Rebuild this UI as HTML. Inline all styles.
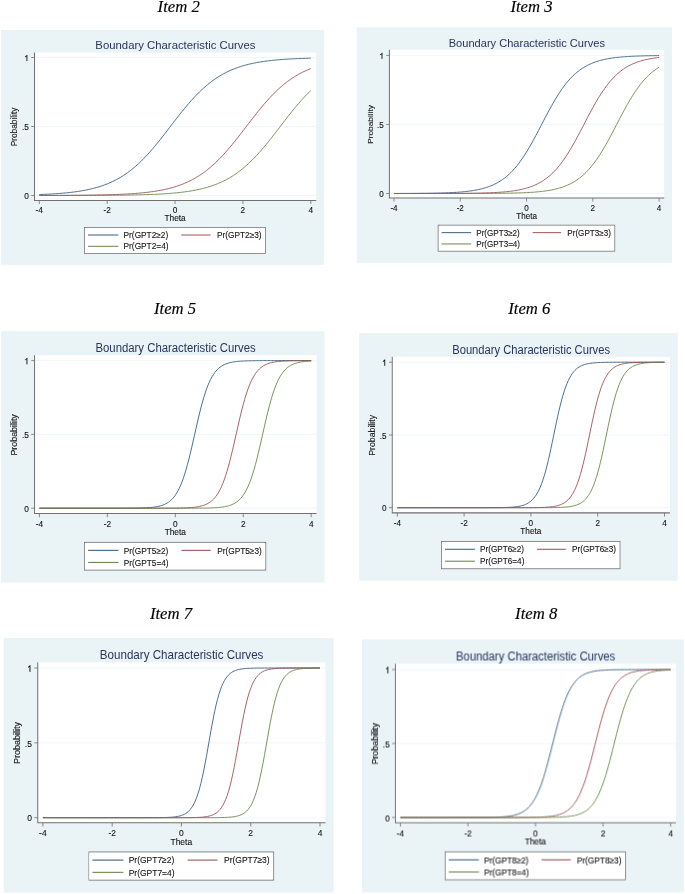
<!DOCTYPE html>
<html><head><meta charset="utf-8"><title>Boundary Characteristic Curves</title>
<style>
html,body{margin:0;padding:0;background:#fff;}
body{width:685px;height:894px;overflow:hidden;}
svg{display:block;}
text{font-family:"Liberation Sans",sans-serif;}
.it{font-family:"Liberation Serif",serif;font-style:italic;font-size:16.7px;fill:#000;stroke:#000;stroke-width:0.15px;}
.lb{font-size:8.3px;fill:#111;stroke:#111;stroke-width:0.1px;}
.tt{font-size:11.8px;fill:#27355c;}
</style></head><body>
<div style="will-change:transform;width:685px;height:894px"><svg width="685" height="894" viewBox="0 0 685 894">

<text class="it" x="178.7" y="12.2" text-anchor="middle" opacity="0.999">Item 2</text>
<g transform="translate(1.0,30.0) scale(1.00062,1.00000)" opacity="0.999">
<rect x="0" y="0" width="323.0" height="235.0" fill="#eaf3f6"/>
<rect x="33" y="22.5" width="282" height="148" fill="#fff"/>
<line x1="34" x2="315" y1="165.5" y2="165.5" stroke="#eaf3f6" stroke-width="0.7"/>
<line x1="34" x2="315" y1="96.5" y2="96.5" stroke="#eaf3f6" stroke-width="0.7"/>
<line x1="34" x2="315" y1="27.5" y2="27.5" stroke="#eaf3f6" stroke-width="0.7"/>
<path d="M38.28,164.53 L39.63,164.48 L40.99,164.43 L42.35,164.37 L43.70,164.32 L45.06,164.25 L46.42,164.19 L47.77,164.12 L49.13,164.05 L50.49,163.97 L51.84,163.89 L53.20,163.81 L54.56,163.72 L55.91,163.63 L57.27,163.53 L58.63,163.43 L59.98,163.32 L61.34,163.21 L62.70,163.09 L64.05,162.97 L65.41,162.84 L66.77,162.70 L68.12,162.56 L69.48,162.40 L70.84,162.25 L72.19,162.08 L73.55,161.90 L74.91,161.72 L76.26,161.52 L77.62,161.32 L78.98,161.11 L80.33,160.89 L81.69,160.65 L83.05,160.41 L84.40,160.15 L85.76,159.88 L87.12,159.59 L88.47,159.30 L89.83,158.99 L91.19,158.66 L92.54,158.32 L93.90,157.96 L95.26,157.59 L96.61,157.19 L97.97,156.78 L99.33,156.36 L100.68,155.91 L102.04,155.44 L103.40,154.95 L104.75,154.44 L106.11,153.91 L107.47,153.35 L108.82,152.77 L110.18,152.16 L111.54,151.53 L112.89,150.87 L114.25,150.19 L115.61,149.48 L116.96,148.73 L118.32,147.96 L119.68,147.16 L121.03,146.33 L122.39,145.47 L123.75,144.57 L125.10,143.65 L126.46,142.69 L127.82,141.69 L129.17,140.66 L130.53,139.60 L131.89,138.50 L133.24,137.37 L134.60,136.21 L135.96,135.00 L137.31,133.77 L138.67,132.50 L140.03,131.19 L141.38,129.85 L142.74,128.48 L144.10,127.07 L145.45,125.63 L146.81,124.16 L148.17,122.66 L149.52,121.13 L150.88,119.57 L152.24,117.98 L153.59,116.37 L154.95,114.74 L156.31,113.08 L157.66,111.40 L159.02,109.70 L160.38,107.99 L161.73,106.26 L163.09,104.52 L164.45,102.77 L165.80,101.01 L167.16,99.24 L168.52,97.47 L169.87,95.70 L171.23,93.93 L172.59,92.17 L173.94,90.41 L175.30,88.66 L176.66,86.91 L178.01,85.18 L179.37,83.47 L180.73,81.77 L182.08,80.09 L183.44,78.43 L184.80,76.79 L186.15,75.18 L187.51,73.59 L188.87,72.03 L190.22,70.49 L191.58,68.99 L192.94,67.52 L194.29,66.07 L195.65,64.66 L197.01,63.29 L198.36,61.94 L199.72,60.63 L201.08,59.36 L202.43,58.12 L203.79,56.91 L205.15,55.74 L206.50,54.61 L207.86,53.51 L209.22,52.44 L210.57,51.41 L211.93,50.41 L213.29,49.45 L214.64,48.52 L216.00,47.62 L217.36,46.75 L218.71,45.92 L220.07,45.12 L221.43,44.34 L222.78,43.60 L224.14,42.88 L225.50,42.19 L226.85,41.53 L228.21,40.90 L229.57,40.29 L230.92,39.71 L232.28,39.15 L233.64,38.61 L234.99,38.10 L236.35,37.61 L237.71,37.14 L239.06,36.69 L240.42,36.26 L241.78,35.85 L243.13,35.45 L244.49,35.08 L245.85,34.72 L247.20,34.37 L248.56,34.05 L249.92,33.73 L251.27,33.44 L252.63,33.15 L253.99,32.88 L255.34,32.62 L256.70,32.37 L258.06,32.14 L259.41,31.91 L260.77,31.70 L262.13,31.49 L263.48,31.30 L264.84,31.12 L266.20,30.94 L267.55,30.77 L268.91,30.61 L270.27,30.46 L271.62,30.31 L272.98,30.18 L274.34,30.04 L275.69,29.92 L277.05,29.80 L278.41,29.69 L279.76,29.58 L281.12,29.48 L282.48,29.38 L283.83,29.29 L285.19,29.20 L286.55,29.11 L287.90,29.03 L289.26,28.96 L290.62,28.89 L291.97,28.82 L293.33,28.75 L294.69,28.69 L296.04,28.63 L297.40,28.57 L298.76,28.52 L300.11,28.47 L301.47,28.42 L302.82,28.38 L304.18,28.33 L305.54,28.29 L306.89,28.25 L308.25,28.21 L309.61,28.18" fill="none" stroke="#2d567b" stroke-width="0.85" stroke-linejoin="round" vector-effect="non-scaling-stroke"/>
<path d="M38.28,165.44 L39.63,165.44 L40.99,165.44 L42.35,165.44 L43.70,165.43 L45.06,165.43 L46.42,165.43 L47.77,165.42 L49.13,165.42 L50.49,165.41 L51.84,165.41 L53.20,165.40 L54.56,165.40 L55.91,165.39 L57.27,165.39 L58.63,165.38 L59.98,165.37 L61.34,165.37 L62.70,165.36 L64.05,165.35 L65.41,165.35 L66.77,165.34 L68.12,165.33 L69.48,165.32 L70.84,165.31 L72.19,165.30 L73.55,165.29 L74.91,165.28 L76.26,165.27 L77.62,165.26 L78.98,165.24 L80.33,165.23 L81.69,165.22 L83.05,165.20 L84.40,165.19 L85.76,165.17 L87.12,165.15 L88.47,165.13 L89.83,165.11 L91.19,165.09 L92.54,165.07 L93.90,165.05 L95.26,165.03 L96.61,165.00 L97.97,164.98 L99.33,164.95 L100.68,164.92 L102.04,164.89 L103.40,164.86 L104.75,164.82 L106.11,164.79 L107.47,164.75 L108.82,164.71 L110.18,164.67 L111.54,164.63 L112.89,164.58 L114.25,164.53 L115.61,164.48 L116.96,164.43 L118.32,164.37 L119.68,164.31 L121.03,164.25 L122.39,164.19 L123.75,164.12 L125.10,164.05 L126.46,163.97 L127.82,163.89 L129.17,163.81 L130.53,163.72 L131.89,163.63 L133.24,163.53 L134.60,163.43 L135.96,163.32 L137.31,163.21 L138.67,163.09 L140.03,162.96 L141.38,162.83 L142.74,162.69 L144.10,162.55 L145.45,162.40 L146.81,162.24 L148.17,162.07 L149.52,161.89 L150.88,161.71 L152.24,161.52 L153.59,161.31 L154.95,161.10 L156.31,160.87 L157.66,160.64 L159.02,160.39 L160.38,160.13 L161.73,159.86 L163.09,159.58 L164.45,159.28 L165.80,158.97 L167.16,158.64 L168.52,158.30 L169.87,157.94 L171.23,157.57 L172.59,157.17 L173.94,156.76 L175.30,156.33 L176.66,155.88 L178.01,155.42 L179.37,154.92 L180.73,154.41 L182.08,153.88 L183.44,153.32 L184.80,152.74 L186.15,152.13 L187.51,151.50 L188.87,150.84 L190.22,150.15 L191.58,149.44 L192.94,148.70 L194.29,147.92 L195.65,147.12 L197.01,146.29 L198.36,145.42 L199.72,144.53 L201.08,143.60 L202.43,142.64 L203.79,141.64 L205.15,140.61 L206.50,139.55 L207.86,138.45 L209.22,137.31 L210.57,136.15 L211.93,134.94 L213.29,133.70 L214.64,132.43 L216.00,131.12 L217.36,129.78 L218.71,128.41 L220.07,127.00 L221.43,125.56 L222.78,124.08 L224.14,122.58 L225.50,121.05 L226.85,119.49 L228.21,117.90 L229.57,116.29 L230.92,114.65 L232.28,112.99 L233.64,111.32 L234.99,109.62 L236.35,107.90 L237.71,106.17 L239.06,104.43 L240.42,102.68 L241.78,100.92 L243.13,99.15 L244.49,97.39 L245.85,95.61 L247.20,93.85 L248.56,92.08 L249.92,90.32 L251.27,88.57 L252.63,86.83 L253.99,85.10 L255.34,83.38 L256.70,81.68 L258.06,80.01 L259.41,78.35 L260.77,76.71 L262.13,75.10 L263.48,73.51 L264.84,71.95 L266.20,70.42 L267.55,68.92 L268.91,67.44 L270.27,66.00 L271.62,64.59 L272.98,63.22 L274.34,61.88 L275.69,60.57 L277.05,59.30 L278.41,58.06 L279.76,56.85 L281.12,55.69 L282.48,54.55 L283.83,53.45 L285.19,52.39 L286.55,51.36 L287.90,50.36 L289.26,49.40 L290.62,48.47 L291.97,47.58 L293.33,46.71 L294.69,45.88 L296.04,45.08 L297.40,44.30 L298.76,43.56 L300.11,42.85 L301.47,42.16 L302.82,41.50 L304.18,40.87 L305.54,40.26 L306.89,39.68 L308.25,39.12 L309.61,38.59" fill="none" stroke="#99464c" stroke-width="0.85" stroke-linejoin="round" vector-effect="non-scaling-stroke"/>
<path d="M38.28,165.48 L39.63,165.48 L40.99,165.48 L42.35,165.48 L43.70,165.48 L45.06,165.48 L46.42,165.48 L47.77,165.48 L49.13,165.48 L50.49,165.48 L51.84,165.47 L53.20,165.47 L54.56,165.47 L55.91,165.47 L57.27,165.47 L58.63,165.47 L59.98,165.47 L61.34,165.46 L62.70,165.46 L64.05,165.46 L65.41,165.46 L66.77,165.46 L68.12,165.45 L69.48,165.45 L70.84,165.45 L72.19,165.44 L73.55,165.44 L74.91,165.44 L76.26,165.44 L77.62,165.43 L78.98,165.43 L80.33,165.43 L81.69,165.42 L83.05,165.42 L84.40,165.41 L85.76,165.41 L87.12,165.40 L88.47,165.40 L89.83,165.39 L91.19,165.39 L92.54,165.38 L93.90,165.37 L95.26,165.37 L96.61,165.36 L97.97,165.35 L99.33,165.35 L100.68,165.34 L102.04,165.33 L103.40,165.32 L104.75,165.31 L106.11,165.30 L107.47,165.29 L108.82,165.28 L110.18,165.27 L111.54,165.26 L112.89,165.24 L114.25,165.23 L115.61,165.22 L116.96,165.20 L118.32,165.19 L119.68,165.17 L121.03,165.15 L122.39,165.13 L123.75,165.11 L125.10,165.09 L126.46,165.07 L127.82,165.05 L129.17,165.03 L130.53,165.00 L131.89,164.98 L133.24,164.95 L134.60,164.92 L135.96,164.89 L137.31,164.86 L138.67,164.82 L140.03,164.79 L141.38,164.75 L142.74,164.71 L144.10,164.67 L145.45,164.63 L146.81,164.58 L148.17,164.53 L149.52,164.48 L150.88,164.43 L152.24,164.37 L153.59,164.31 L154.95,164.25 L156.31,164.19 L157.66,164.12 L159.02,164.05 L160.38,163.97 L161.73,163.89 L163.09,163.81 L164.45,163.72 L165.80,163.63 L167.16,163.53 L168.52,163.43 L169.87,163.32 L171.23,163.21 L172.59,163.09 L173.94,162.96 L175.30,162.83 L176.66,162.69 L178.01,162.55 L179.37,162.40 L180.73,162.24 L182.08,162.07 L183.44,161.89 L184.80,161.71 L186.15,161.52 L187.51,161.31 L188.87,161.10 L190.22,160.87 L191.58,160.64 L192.94,160.39 L194.29,160.13 L195.65,159.86 L197.01,159.58 L198.36,159.28 L199.72,158.97 L201.08,158.64 L202.43,158.30 L203.79,157.94 L205.15,157.57 L206.50,157.17 L207.86,156.76 L209.22,156.33 L210.57,155.88 L211.93,155.42 L213.29,154.92 L214.64,154.41 L216.00,153.88 L217.36,153.32 L218.71,152.74 L220.07,152.13 L221.43,151.50 L222.78,150.84 L224.14,150.15 L225.50,149.44 L226.85,148.70 L228.21,147.92 L229.57,147.12 L230.92,146.29 L232.28,145.42 L233.64,144.53 L234.99,143.60 L236.35,142.64 L237.71,141.64 L239.06,140.61 L240.42,139.55 L241.78,138.45 L243.13,137.31 L244.49,136.15 L245.85,134.94 L247.20,133.70 L248.56,132.43 L249.92,131.12 L251.27,129.78 L252.63,128.41 L253.99,127.00 L255.34,125.56 L256.70,124.08 L258.06,122.58 L259.41,121.05 L260.77,119.49 L262.13,117.90 L263.48,116.29 L264.84,114.65 L266.20,112.99 L267.55,111.32 L268.91,109.62 L270.27,107.90 L271.62,106.17 L272.98,104.43 L274.34,102.68 L275.69,100.92 L277.05,99.15 L278.41,97.39 L279.76,95.61 L281.12,93.85 L282.48,92.08 L283.83,90.32 L285.19,88.57 L286.55,86.83 L287.90,85.10 L289.26,83.38 L290.62,81.68 L291.97,80.01 L293.33,78.35 L294.69,76.71 L296.04,75.10 L297.40,73.51 L298.76,71.95 L300.11,70.42 L301.47,68.92 L302.82,67.44 L304.18,66.00 L305.54,64.59 L306.89,63.22 L308.25,61.88 L309.61,60.57" fill="none" stroke="#638041" stroke-width="0.85" stroke-linejoin="round" vector-effect="non-scaling-stroke"/>
<path d="M33.5,22.5 V170.5 H315" fill="none" stroke="#707070" stroke-width="1"/>
<line x1="30.2" x2="33.5" y1="165.5" y2="165.5" stroke="#707070" stroke-width="0.8"/>
<text class="lb" x="27.8" y="168.90" text-anchor="end">0</text>
<line x1="30.2" x2="33.5" y1="96.5" y2="96.5" stroke="#707070" stroke-width="0.8"/>
<text class="lb" x="27.8" y="99.90" text-anchor="end">.5</text>
<line x1="30.2" x2="33.5" y1="27.5" y2="27.5" stroke="#707070" stroke-width="0.8"/>
<path d="M763 0H583V1147Q518 1085 412.5 1023T223 930V1104Q372 1174 483.5 1273.5T641 1466H763Z" fill="#111" stroke="#111" stroke-width="40" transform="translate(23.18,30.90) scale(0.004053,-0.004053)"/>
<line x1="38.28" x2="38.28" y1="170.5" y2="174" stroke="#707070" stroke-width="0.8"/>
<text class="lb" x="38.28" y="183.2" text-anchor="middle">-4</text>
<line x1="106.11" x2="106.11" y1="170.5" y2="174" stroke="#707070" stroke-width="0.8"/>
<text class="lb" x="106.11" y="183.2" text-anchor="middle">-2</text>
<line x1="173.94" x2="173.94" y1="170.5" y2="174" stroke="#707070" stroke-width="0.8"/>
<text class="lb" x="173.94" y="183.2" text-anchor="middle">0</text>
<line x1="241.78" x2="241.78" y1="170.5" y2="174" stroke="#707070" stroke-width="0.8"/>
<text class="lb" x="241.78" y="183.2" text-anchor="middle">2</text>
<line x1="309.61" x2="309.61" y1="170.5" y2="174" stroke="#707070" stroke-width="0.8"/>
<text class="lb" x="309.61" y="183.2" text-anchor="middle">4</text>
<text class="lb" x="174" y="191" text-anchor="middle">Theta</text>
<text class="lb" transform="translate(16.3,97) rotate(-90)" text-anchor="middle">Probability</text>
<text class="tt" x="174.3" y="19.4" text-anchor="middle" textLength="160" lengthAdjust="spacingAndGlyphs">Boundary Characteristic Curves</text>
<rect x="83.4" y="197.5" width="181" height="26" fill="#fff" stroke="#666" stroke-width="0.7"/>
<line x1="87" x2="117.3" y1="205" y2="205" stroke="#2d567b" stroke-width="0.95"/>
<line x1="180.2" x2="209.4" y1="205" y2="205" stroke="#99464c" stroke-width="0.95"/>
<line x1="87" x2="117.3" y1="216.3" y2="216.3" stroke="#638041" stroke-width="0.95"/>
<text class="lb" x="122.5" y="208">Pr(GPT2≥2)</text>
<text class="lb" x="215.8" y="208">Pr(GPT2≥3)</text>
<text class="lb" x="122.5" y="219.3">Pr(GPT2=4)</text>
</g>
<text class="it" x="531.5" y="12.1" text-anchor="middle" opacity="0.999">Item 3</text>
<g transform="translate(356.7,27.3) scale(0.97616,1.00170)" opacity="0.999">
<rect x="0" y="0" width="323.0" height="235.0" fill="#eaf3f6"/>
<rect x="33" y="22.5" width="282" height="148" fill="#fff"/>
<line x1="34" x2="315" y1="165.9175870858114" y2="165.9175870858114" stroke="#eaf3f6" stroke-width="0.7"/>
<line x1="34" x2="315" y1="96.98491928632116" y2="96.98491928632116" stroke="#eaf3f6" stroke-width="0.7"/>
<line x1="34" x2="315" y1="28.052251486830926" y2="28.052251486830926" stroke="#eaf3f6" stroke-width="0.7"/>
<path d="M38.21,165.88 L39.57,165.88 L40.93,165.88 L42.28,165.87 L43.64,165.87 L45.00,165.87 L46.36,165.86 L47.72,165.86 L49.07,165.85 L50.43,165.85 L51.79,165.84 L53.15,165.84 L54.51,165.83 L55.86,165.82 L57.22,165.82 L58.58,165.81 L59.94,165.80 L61.29,165.79 L62.65,165.78 L64.01,165.77 L65.37,165.76 L66.73,165.75 L68.08,165.73 L69.44,165.72 L70.80,165.70 L72.16,165.69 L73.52,165.67 L74.87,165.65 L76.23,165.63 L77.59,165.61 L78.95,165.58 L80.30,165.56 L81.66,165.53 L83.02,165.50 L84.38,165.47 L85.74,165.44 L87.09,165.40 L88.45,165.36 L89.81,165.32 L91.17,165.27 L92.53,165.22 L93.88,165.17 L95.24,165.11 L96.60,165.05 L97.96,164.98 L99.32,164.91 L100.67,164.84 L102.03,164.75 L103.39,164.66 L104.75,164.57 L106.10,164.47 L107.46,164.36 L108.82,164.24 L110.18,164.11 L111.54,163.97 L112.89,163.83 L114.25,163.67 L115.61,163.50 L116.97,163.32 L118.33,163.12 L119.68,162.91 L121.04,162.69 L122.40,162.44 L123.76,162.18 L125.11,161.91 L126.47,161.61 L127.83,161.29 L129.19,160.94 L130.55,160.58 L131.90,160.18 L133.26,159.76 L134.62,159.31 L135.98,158.83 L137.34,158.32 L138.69,157.77 L140.05,157.18 L141.41,156.56 L142.77,155.89 L144.12,155.18 L145.48,154.43 L146.84,153.62 L148.20,152.77 L149.56,151.86 L150.91,150.90 L152.27,149.88 L153.63,148.80 L154.99,147.66 L156.35,146.46 L157.70,145.18 L159.06,143.85 L160.42,142.44 L161.78,140.96 L163.13,139.42 L164.49,137.80 L165.85,136.10 L167.21,134.34 L168.57,132.50 L169.92,130.59 L171.28,128.61 L172.64,126.56 L174.00,124.45 L175.36,122.27 L176.71,120.04 L178.07,117.75 L179.43,115.40 L180.79,113.01 L182.15,110.58 L183.50,108.11 L184.86,105.61 L186.22,103.09 L187.58,100.55 L188.93,98.01 L190.29,95.45 L191.65,92.91 L193.01,90.37 L194.37,87.86 L195.72,85.36 L197.08,82.90 L198.44,80.48 L199.80,78.10 L201.16,75.76 L202.51,73.48 L203.87,71.26 L205.23,69.09 L206.59,66.99 L207.94,64.96 L209.30,62.99 L210.66,61.10 L212.02,59.27 L213.38,57.52 L214.73,55.84 L216.09,54.24 L217.45,52.70 L218.81,51.24 L220.17,49.85 L221.52,48.53 L222.88,47.27 L224.24,46.08 L225.60,44.95 L226.95,43.88 L228.31,42.87 L229.67,41.92 L231.03,41.03 L232.39,40.18 L233.74,39.39 L235.10,38.64 L236.46,37.94 L237.82,37.28 L239.18,36.67 L240.53,36.09 L241.89,35.55 L243.25,35.04 L244.61,34.56 L245.97,34.12 L247.32,33.70 L248.68,33.32 L250.04,32.95 L251.40,32.62 L252.75,32.30 L254.11,32.01 L255.47,31.73 L256.83,31.48 L258.19,31.24 L259.54,31.02 L260.90,30.81 L262.26,30.62 L263.62,30.44 L264.98,30.27 L266.33,30.11 L267.69,29.97 L269.05,29.83 L270.41,29.71 L271.76,29.59 L273.12,29.48 L274.48,29.38 L275.84,29.29 L277.20,29.20 L278.55,29.12 L279.91,29.04 L281.27,28.97 L282.63,28.91 L283.99,28.85 L285.34,28.79 L286.70,28.74 L288.06,28.69 L289.42,28.64 L290.77,28.60 L292.13,28.56 L293.49,28.53 L294.85,28.49 L296.21,28.46 L297.56,28.43 L298.92,28.41 L300.28,28.38 L301.64,28.36 L303.00,28.34 L304.35,28.32 L305.71,28.30 L307.07,28.28 L308.43,28.26 L309.78,28.25" fill="none" stroke="#2d567b" stroke-width="0.85" stroke-linejoin="round" vector-effect="non-scaling-stroke"/>
<path d="M38.21,165.91 L39.57,165.91 L40.93,165.91 L42.28,165.91 L43.64,165.91 L45.00,165.91 L46.36,165.91 L47.72,165.91 L49.07,165.91 L50.43,165.91 L51.79,165.91 L53.15,165.91 L54.51,165.91 L55.86,165.91 L57.22,165.91 L58.58,165.91 L59.94,165.91 L61.29,165.91 L62.65,165.90 L64.01,165.90 L65.37,165.90 L66.73,165.90 L68.08,165.90 L69.44,165.90 L70.80,165.90 L72.16,165.90 L73.52,165.89 L74.87,165.89 L76.23,165.89 L77.59,165.89 L78.95,165.89 L80.30,165.88 L81.66,165.88 L83.02,165.88 L84.38,165.88 L85.74,165.87 L87.09,165.87 L88.45,165.86 L89.81,165.86 L91.17,165.86 L92.53,165.85 L93.88,165.85 L95.24,165.84 L96.60,165.84 L97.96,165.83 L99.32,165.82 L100.67,165.81 L102.03,165.81 L103.39,165.80 L104.75,165.79 L106.10,165.78 L107.46,165.77 L108.82,165.76 L110.18,165.75 L111.54,165.73 L112.89,165.72 L114.25,165.70 L115.61,165.69 L116.97,165.67 L118.33,165.65 L119.68,165.63 L121.04,165.61 L122.40,165.58 L123.76,165.56 L125.11,165.53 L126.47,165.50 L127.83,165.47 L129.19,165.43 L130.55,165.40 L131.90,165.36 L133.26,165.31 L134.62,165.27 L135.98,165.22 L137.34,165.16 L138.69,165.11 L140.05,165.04 L141.41,164.98 L142.77,164.90 L144.12,164.83 L145.48,164.74 L146.84,164.66 L148.20,164.56 L149.56,164.46 L150.91,164.35 L152.27,164.23 L153.63,164.10 L154.99,163.96 L156.35,163.81 L157.70,163.65 L159.06,163.48 L160.42,163.30 L161.78,163.10 L163.13,162.89 L164.49,162.66 L165.85,162.42 L167.21,162.16 L168.57,161.88 L169.92,161.58 L171.28,161.25 L172.64,160.91 L174.00,160.54 L175.36,160.14 L176.71,159.72 L178.07,159.27 L179.43,158.78 L180.79,158.27 L182.15,157.71 L183.50,157.12 L184.86,156.49 L186.22,155.82 L187.58,155.11 L188.93,154.35 L190.29,153.54 L191.65,152.68 L193.01,151.77 L194.37,150.80 L195.72,149.77 L197.08,148.69 L198.44,147.54 L199.80,146.33 L201.16,145.05 L202.51,143.71 L203.87,142.30 L205.23,140.81 L206.59,139.26 L207.94,137.63 L209.30,135.93 L210.66,134.16 L212.02,132.31 L213.38,130.40 L214.73,128.41 L216.09,126.36 L217.45,124.24 L218.81,122.05 L220.17,119.81 L221.52,117.51 L222.88,115.16 L224.24,112.77 L225.60,110.33 L226.95,107.86 L228.31,105.36 L229.67,102.84 L231.03,100.30 L232.39,97.75 L233.74,95.20 L235.10,92.65 L236.46,90.12 L237.82,87.61 L239.18,85.12 L240.53,82.66 L241.89,80.24 L243.25,77.86 L244.61,75.53 L245.97,73.26 L247.32,71.04 L248.68,68.88 L250.04,66.78 L251.40,64.76 L252.75,62.80 L254.11,60.91 L255.47,59.10 L256.83,57.35 L258.19,55.68 L259.54,54.08 L260.90,52.56 L262.26,51.10 L263.62,49.71 L264.98,48.40 L266.33,47.15 L267.69,45.96 L269.05,44.84 L270.41,43.78 L271.76,42.78 L273.12,41.83 L274.48,40.94 L275.84,40.10 L277.20,39.31 L278.55,38.57 L279.91,37.87 L281.27,37.22 L282.63,36.61 L283.99,36.03 L285.34,35.49 L286.70,34.99 L288.06,34.52 L289.42,34.08 L290.77,33.66 L292.13,33.28 L293.49,32.92 L294.85,32.58 L296.21,32.27 L297.56,31.98 L298.92,31.71 L300.28,31.45 L301.64,31.21 L303.00,30.99 L304.35,30.79 L305.71,30.60 L307.07,30.42 L308.43,30.25 L309.78,30.10" fill="none" stroke="#99464c" stroke-width="0.85" stroke-linejoin="round" vector-effect="non-scaling-stroke"/>
<path d="M38.21,165.92 L39.57,165.92 L40.93,165.92 L42.28,165.92 L43.64,165.92 L45.00,165.92 L46.36,165.92 L47.72,165.92 L49.07,165.92 L50.43,165.92 L51.79,165.92 L53.15,165.92 L54.51,165.92 L55.86,165.92 L57.22,165.92 L58.58,165.92 L59.94,165.92 L61.29,165.92 L62.65,165.92 L64.01,165.92 L65.37,165.92 L66.73,165.91 L68.08,165.91 L69.44,165.91 L70.80,165.91 L72.16,165.91 L73.52,165.91 L74.87,165.91 L76.23,165.91 L77.59,165.91 L78.95,165.91 L80.30,165.91 L81.66,165.91 L83.02,165.91 L84.38,165.91 L85.74,165.91 L87.09,165.91 L88.45,165.91 L89.81,165.91 L91.17,165.91 L92.53,165.91 L93.88,165.91 L95.24,165.91 L96.60,165.90 L97.96,165.90 L99.32,165.90 L100.67,165.90 L102.03,165.90 L103.39,165.90 L104.75,165.90 L106.10,165.90 L107.46,165.89 L108.82,165.89 L110.18,165.89 L111.54,165.89 L112.89,165.89 L114.25,165.88 L115.61,165.88 L116.97,165.88 L118.33,165.87 L119.68,165.87 L121.04,165.87 L122.40,165.86 L123.76,165.86 L125.11,165.85 L126.47,165.85 L127.83,165.84 L129.19,165.84 L130.55,165.83 L131.90,165.83 L133.26,165.82 L134.62,165.81 L135.98,165.80 L137.34,165.80 L138.69,165.79 L140.05,165.78 L141.41,165.77 L142.77,165.75 L144.12,165.74 L145.48,165.73 L146.84,165.71 L148.20,165.70 L149.56,165.68 L150.91,165.66 L152.27,165.64 L153.63,165.62 L154.99,165.60 L156.35,165.57 L157.70,165.55 L159.06,165.52 L160.42,165.49 L161.78,165.46 L163.13,165.42 L164.49,165.38 L165.85,165.34 L167.21,165.30 L168.57,165.25 L169.92,165.20 L171.28,165.15 L172.64,165.09 L174.00,165.02 L175.36,164.96 L176.71,164.88 L178.07,164.80 L179.43,164.72 L180.79,164.63 L182.15,164.53 L183.50,164.42 L184.86,164.31 L186.22,164.19 L187.58,164.06 L188.93,163.92 L190.29,163.77 L191.65,163.60 L193.01,163.43 L194.37,163.24 L195.72,163.04 L197.08,162.82 L198.44,162.59 L199.80,162.34 L201.16,162.08 L202.51,161.79 L203.87,161.48 L205.23,161.15 L206.59,160.80 L207.94,160.42 L209.30,160.02 L210.66,159.59 L212.02,159.13 L213.38,158.63 L214.73,158.10 L216.09,157.54 L217.45,156.94 L218.81,156.30 L220.17,155.61 L221.52,154.88 L222.88,154.11 L224.24,153.29 L225.60,152.41 L226.95,151.48 L228.31,150.50 L229.67,149.45 L231.03,148.35 L232.39,147.19 L233.74,145.95 L235.10,144.66 L236.46,143.29 L237.82,141.86 L239.18,140.35 L240.53,138.78 L241.89,137.13 L243.25,135.41 L244.61,133.61 L245.97,131.74 L247.32,129.81 L248.68,127.80 L250.04,125.73 L251.40,123.59 L252.75,121.39 L254.11,119.13 L255.47,116.81 L256.83,114.45 L258.19,112.04 L259.54,109.59 L260.90,107.11 L262.26,104.61 L263.62,102.08 L264.98,99.53 L266.33,96.98 L267.69,94.44 L269.05,91.89 L270.41,89.36 L271.76,86.86 L273.12,84.38 L274.48,81.93 L275.84,79.52 L277.20,77.16 L278.55,74.84 L279.91,72.58 L281.27,70.38 L282.63,68.24 L283.99,66.17 L285.34,64.16 L286.70,62.23 L288.06,60.36 L289.42,58.56 L290.77,56.84 L292.13,55.19 L293.49,53.62 L294.85,52.11 L296.21,50.68 L297.56,49.31 L298.92,48.01 L300.28,46.78 L301.64,45.62 L303.00,44.52 L304.35,43.47 L305.71,42.49 L307.07,41.56 L308.43,40.68 L309.78,39.86" fill="none" stroke="#638041" stroke-width="0.85" stroke-linejoin="round" vector-effect="non-scaling-stroke"/>
<path d="M33.5,22.5 V170.5 H315" fill="none" stroke="#707070" stroke-width="1"/>
<line x1="30.2" x2="33.5" y1="165.9175870858114" y2="165.9175870858114" stroke="#707070" stroke-width="0.8"/>
<text class="lb" x="27.8" y="169.32" text-anchor="end">0</text>
<line x1="30.2" x2="33.5" y1="96.98491928632116" y2="96.98491928632116" stroke="#707070" stroke-width="0.8"/>
<text class="lb" x="27.8" y="100.38" text-anchor="end">.5</text>
<line x1="30.2" x2="33.5" y1="28.052251486830926" y2="28.052251486830926" stroke="#707070" stroke-width="0.8"/>
<path d="M763 0H583V1147Q518 1085 412.5 1023T223 930V1104Q372 1174 483.5 1273.5T641 1466H763Z" fill="#111" stroke="#111" stroke-width="40" transform="translate(23.18,31.45) scale(0.004053,-0.004053)"/>
<line x1="38.21" x2="38.21" y1="170.5" y2="174" stroke="#707070" stroke-width="0.8"/>
<text class="lb" x="38.21" y="183.2" text-anchor="middle">-4</text>
<line x1="106.10" x2="106.10" y1="170.5" y2="174" stroke="#707070" stroke-width="0.8"/>
<text class="lb" x="106.10" y="183.2" text-anchor="middle">-2</text>
<line x1="174.00" x2="174.00" y1="170.5" y2="174" stroke="#707070" stroke-width="0.8"/>
<text class="lb" x="174.00" y="183.2" text-anchor="middle">0</text>
<line x1="241.89" x2="241.89" y1="170.5" y2="174" stroke="#707070" stroke-width="0.8"/>
<text class="lb" x="241.89" y="183.2" text-anchor="middle">2</text>
<line x1="309.78" x2="309.78" y1="170.5" y2="174" stroke="#707070" stroke-width="0.8"/>
<text class="lb" x="309.78" y="183.2" text-anchor="middle">4</text>
<text class="lb" x="174" y="191" text-anchor="middle">Theta</text>
<text class="lb" transform="translate(16.3,97) rotate(-90)" text-anchor="middle">Probability</text>
<text class="tt" x="174.3" y="19.4" text-anchor="middle" textLength="160" lengthAdjust="spacingAndGlyphs">Boundary Characteristic Curves</text>
<rect x="83.4" y="197.5" width="181" height="26" fill="#fff" stroke="#666" stroke-width="0.7"/>
<line x1="87" x2="117.3" y1="205" y2="205" stroke="#2d567b" stroke-width="0.95"/>
<line x1="180.2" x2="209.4" y1="205" y2="205" stroke="#99464c" stroke-width="0.95"/>
<line x1="87" x2="117.3" y1="216.3" y2="216.3" stroke="#638041" stroke-width="0.95"/>
<text class="lb" x="122.5" y="208">Pr(GPT3≥2)</text>
<text class="lb" x="215.8" y="208">Pr(GPT3≥3)</text>
<text class="lb" x="122.5" y="219.3">Pr(GPT3=4)</text>
</g>
<text class="it" x="175.1" y="314.0" text-anchor="middle" opacity="0.999">Item 5</text>
<g transform="translate(1.0,331.2) scale(1.00155,1.06894)" opacity="0.999">
<rect x="0" y="0" width="323.0" height="235.0" fill="#eaf3f6"/>
<rect x="33" y="22.5" width="282" height="148" fill="#fff"/>
<line x1="34" x2="315" y1="165.58519108280254" y2="165.58519108280254" stroke="#eaf3f6" stroke-width="0.7"/>
<line x1="34" x2="315" y1="96.54458598726116" y2="96.54458598726116" stroke="#eaf3f6" stroke-width="0.7"/>
<line x1="34" x2="315" y1="27.503980891719777" y2="27.503980891719777" stroke="#eaf3f6" stroke-width="0.7"/>
<path d="M38.34,165.59 L39.70,165.59 L41.05,165.59 L42.41,165.59 L43.77,165.59 L45.13,165.59 L46.48,165.59 L47.84,165.59 L49.20,165.59 L50.55,165.59 L51.91,165.59 L53.27,165.59 L54.62,165.59 L55.98,165.59 L57.34,165.59 L58.69,165.59 L60.05,165.59 L61.41,165.59 L62.76,165.59 L64.12,165.59 L65.48,165.59 L66.84,165.59 L68.19,165.59 L69.55,165.59 L70.91,165.59 L72.26,165.59 L73.62,165.59 L74.98,165.59 L76.33,165.59 L77.69,165.59 L79.05,165.59 L80.40,165.59 L81.76,165.58 L83.12,165.58 L84.48,165.58 L85.83,165.58 L87.19,165.58 L88.55,165.58 L89.90,165.58 L91.26,165.58 L92.62,165.58 L93.97,165.58 L95.33,165.58 L96.69,165.58 L98.04,165.58 L99.40,165.58 L100.76,165.58 L102.11,165.58 L103.47,165.58 L104.83,165.58 L106.19,165.58 L107.54,165.58 L108.90,165.58 L110.26,165.58 L111.61,165.58 L112.97,165.58 L114.33,165.58 L115.68,165.57 L117.04,165.57 L118.40,165.57 L119.75,165.57 L121.11,165.56 L122.47,165.56 L123.83,165.55 L125.18,165.55 L126.54,165.54 L127.90,165.53 L129.25,165.53 L130.61,165.52 L131.97,165.50 L133.32,165.49 L134.68,165.47 L136.04,165.45 L137.39,165.43 L138.75,165.40 L140.11,165.36 L141.47,165.33 L142.82,165.28 L144.18,165.22 L145.54,165.16 L146.89,165.09 L148.25,165.00 L149.61,164.89 L150.96,164.77 L152.32,164.62 L153.68,164.45 L155.03,164.26 L156.39,164.02 L157.75,163.75 L159.10,163.42 L160.46,163.04 L161.82,162.60 L163.18,162.08 L164.53,161.48 L165.89,160.77 L167.25,159.95 L168.60,158.99 L169.96,157.88 L171.32,156.60 L172.67,155.12 L174.03,153.42 L175.39,151.47 L176.74,149.26 L178.10,146.74 L179.46,143.91 L180.82,140.74 L182.17,137.23 L183.53,133.35 L184.89,129.12 L186.24,124.56 L187.60,119.68 L188.96,114.52 L190.31,109.14 L191.67,103.60 L193.03,97.96 L194.38,92.30 L195.74,86.70 L197.10,81.23 L198.45,75.96 L199.81,70.94 L201.17,66.21 L202.53,61.81 L203.88,57.76 L205.24,54.06 L206.60,50.72 L207.95,47.72 L209.31,45.05 L210.67,42.69 L212.02,40.61 L213.38,38.79 L214.74,37.20 L216.09,35.82 L217.45,34.63 L218.81,33.60 L220.17,32.71 L221.52,31.95 L222.88,31.30 L224.24,30.74 L225.59,30.26 L226.95,29.85 L228.31,29.50 L229.66,29.20 L231.02,28.95 L232.38,28.73 L233.73,28.55 L235.09,28.39 L236.45,28.26 L237.80,28.14 L239.16,28.05 L240.52,27.96 L241.88,27.90 L243.23,27.84 L244.59,27.79 L245.95,27.74 L247.30,27.71 L248.66,27.68 L250.02,27.65 L251.37,27.63 L252.73,27.61 L254.09,27.59 L255.44,27.58 L256.80,27.57 L258.16,27.56 L259.52,27.55 L260.87,27.54 L262.23,27.54 L263.59,27.53 L264.94,27.53 L266.30,27.52 L267.66,27.52 L269.01,27.52 L270.37,27.52 L271.73,27.51 L273.08,27.51 L274.44,27.51 L275.80,27.51 L277.15,27.51 L278.51,27.51 L279.87,27.51 L281.23,27.51 L282.58,27.51 L283.94,27.51 L285.30,27.51 L286.65,27.51 L288.01,27.51 L289.37,27.51 L290.72,27.51 L292.08,27.50 L293.44,27.50 L294.79,27.50 L296.15,27.50 L297.51,27.50 L298.87,27.50 L300.22,27.50 L301.58,27.50 L302.94,27.50 L304.29,27.50 L305.65,27.50 L307.01,27.50 L308.36,27.50 L309.72,27.50" fill="none" stroke="#2d567b" stroke-width="0.85" stroke-linejoin="round" vector-effect="non-scaling-stroke"/>
<path d="M38.34,165.59 L39.70,165.59 L41.05,165.59 L42.41,165.59 L43.77,165.59 L45.13,165.59 L46.48,165.59 L47.84,165.59 L49.20,165.59 L50.55,165.59 L51.91,165.59 L53.27,165.59 L54.62,165.59 L55.98,165.59 L57.34,165.59 L58.69,165.59 L60.05,165.59 L61.41,165.59 L62.76,165.59 L64.12,165.59 L65.48,165.59 L66.84,165.59 L68.19,165.59 L69.55,165.59 L70.91,165.59 L72.26,165.59 L73.62,165.59 L74.98,165.59 L76.33,165.59 L77.69,165.59 L79.05,165.59 L80.40,165.59 L81.76,165.59 L83.12,165.59 L84.48,165.59 L85.83,165.59 L87.19,165.59 L88.55,165.59 L89.90,165.59 L91.26,165.59 L92.62,165.59 L93.97,165.59 L95.33,165.59 L96.69,165.59 L98.04,165.59 L99.40,165.59 L100.76,165.59 L102.11,165.59 L103.47,165.59 L104.83,165.59 L106.19,165.59 L107.54,165.59 L108.90,165.59 L110.26,165.59 L111.61,165.59 L112.97,165.59 L114.33,165.59 L115.68,165.59 L117.04,165.59 L118.40,165.59 L119.75,165.59 L121.11,165.59 L122.47,165.59 L123.83,165.58 L125.18,165.58 L126.54,165.58 L127.90,165.58 L129.25,165.58 L130.61,165.58 L131.97,165.58 L133.32,165.58 L134.68,165.58 L136.04,165.58 L137.39,165.58 L138.75,165.58 L140.11,165.58 L141.47,165.58 L142.82,165.58 L144.18,165.58 L145.54,165.58 L146.89,165.58 L148.25,165.58 L149.61,165.58 L150.96,165.58 L152.32,165.58 L153.68,165.58 L155.03,165.58 L156.39,165.57 L157.75,165.57 L159.10,165.57 L160.46,165.57 L161.82,165.56 L163.18,165.56 L164.53,165.56 L165.89,165.55 L167.25,165.55 L168.60,165.54 L169.96,165.53 L171.32,165.52 L172.67,165.51 L174.03,165.50 L175.39,165.48 L176.74,165.46 L178.10,165.44 L179.46,165.41 L180.82,165.38 L182.17,165.35 L183.53,165.30 L184.89,165.25 L186.24,165.19 L187.60,165.12 L188.96,165.04 L190.31,164.95 L191.67,164.83 L193.03,164.70 L194.38,164.54 L195.74,164.36 L197.10,164.14 L198.45,163.89 L199.81,163.59 L201.17,163.24 L202.53,162.83 L203.88,162.35 L205.24,161.79 L206.60,161.14 L207.95,160.38 L209.31,159.49 L210.67,158.46 L212.02,157.26 L213.38,155.89 L214.74,154.30 L216.09,152.48 L217.45,150.40 L218.81,148.04 L220.17,145.37 L221.52,142.37 L222.88,139.03 L224.24,135.33 L225.59,131.28 L226.95,126.88 L228.31,122.15 L229.66,117.13 L231.02,111.85 L232.38,106.38 L233.73,100.79 L235.09,95.13 L236.45,89.49 L237.80,83.95 L239.16,78.57 L240.52,73.41 L241.88,68.53 L243.23,63.96 L244.59,59.74 L245.95,55.86 L247.30,52.35 L248.66,49.18 L250.02,46.35 L251.37,43.83 L252.73,41.62 L254.09,39.67 L255.44,37.97 L256.80,36.49 L258.16,35.21 L259.52,34.10 L260.87,33.14 L262.23,32.32 L263.59,31.61 L264.94,31.01 L266.30,30.49 L267.66,30.04 L269.01,29.67 L270.37,29.34 L271.73,29.07 L273.08,28.83 L274.44,28.63 L275.80,28.46 L277.15,28.32 L278.51,28.20 L279.87,28.09 L281.23,28.00 L282.58,27.93 L283.94,27.86 L285.30,27.81 L286.65,27.76 L288.01,27.72 L289.37,27.69 L290.72,27.66 L292.08,27.64 L293.44,27.62 L294.79,27.60 L296.15,27.59 L297.51,27.57 L298.87,27.56 L300.22,27.55 L301.58,27.55 L302.94,27.54 L304.29,27.53 L305.65,27.53 L307.01,27.53 L308.36,27.52 L309.72,27.52" fill="none" stroke="#99464c" stroke-width="0.85" stroke-linejoin="round" vector-effect="non-scaling-stroke"/>
<path d="M38.34,165.59 L39.70,165.59 L41.05,165.59 L42.41,165.59 L43.77,165.59 L45.13,165.59 L46.48,165.59 L47.84,165.59 L49.20,165.59 L50.55,165.59 L51.91,165.59 L53.27,165.59 L54.62,165.59 L55.98,165.59 L57.34,165.59 L58.69,165.59 L60.05,165.59 L61.41,165.59 L62.76,165.59 L64.12,165.59 L65.48,165.59 L66.84,165.59 L68.19,165.59 L69.55,165.59 L70.91,165.59 L72.26,165.59 L73.62,165.59 L74.98,165.59 L76.33,165.59 L77.69,165.59 L79.05,165.59 L80.40,165.59 L81.76,165.59 L83.12,165.59 L84.48,165.59 L85.83,165.59 L87.19,165.59 L88.55,165.59 L89.90,165.59 L91.26,165.59 L92.62,165.59 L93.97,165.59 L95.33,165.59 L96.69,165.59 L98.04,165.59 L99.40,165.59 L100.76,165.59 L102.11,165.59 L103.47,165.59 L104.83,165.59 L106.19,165.59 L107.54,165.59 L108.90,165.59 L110.26,165.59 L111.61,165.59 L112.97,165.59 L114.33,165.59 L115.68,165.59 L117.04,165.59 L118.40,165.59 L119.75,165.59 L121.11,165.59 L122.47,165.59 L123.83,165.59 L125.18,165.59 L126.54,165.59 L127.90,165.59 L129.25,165.59 L130.61,165.59 L131.97,165.59 L133.32,165.59 L134.68,165.59 L136.04,165.59 L137.39,165.59 L138.75,165.59 L140.11,165.59 L141.47,165.59 L142.82,165.59 L144.18,165.59 L145.54,165.59 L146.89,165.59 L148.25,165.59 L149.61,165.58 L150.96,165.58 L152.32,165.58 L153.68,165.58 L155.03,165.58 L156.39,165.58 L157.75,165.58 L159.10,165.58 L160.46,165.58 L161.82,165.58 L163.18,165.58 L164.53,165.58 L165.89,165.58 L167.25,165.58 L168.60,165.58 L169.96,165.58 L171.32,165.58 L172.67,165.58 L174.03,165.58 L175.39,165.58 L176.74,165.58 L178.10,165.58 L179.46,165.58 L180.82,165.58 L182.17,165.58 L183.53,165.57 L184.89,165.57 L186.24,165.57 L187.60,165.57 L188.96,165.56 L190.31,165.56 L191.67,165.55 L193.03,165.55 L194.38,165.54 L195.74,165.53 L197.10,165.53 L198.45,165.52 L199.81,165.50 L201.17,165.49 L202.53,165.47 L203.88,165.45 L205.24,165.43 L206.60,165.40 L207.95,165.36 L209.31,165.33 L210.67,165.28 L212.02,165.22 L213.38,165.16 L214.74,165.09 L216.09,165.00 L217.45,164.89 L218.81,164.77 L220.17,164.62 L221.52,164.45 L222.88,164.26 L224.24,164.02 L225.59,163.75 L226.95,163.42 L228.31,163.04 L229.66,162.60 L231.02,162.08 L232.38,161.48 L233.73,160.77 L235.09,159.95 L236.45,158.99 L237.80,157.88 L239.16,156.60 L240.52,155.12 L241.88,153.42 L243.23,151.47 L244.59,149.26 L245.95,146.74 L247.30,143.91 L248.66,140.74 L250.02,137.23 L251.37,133.35 L252.73,129.12 L254.09,124.56 L255.44,119.68 L256.80,114.52 L258.16,109.14 L259.52,103.60 L260.87,97.96 L262.23,92.30 L263.59,86.70 L264.94,81.23 L266.30,75.96 L267.66,70.94 L269.01,66.21 L270.37,61.81 L271.73,57.76 L273.08,54.06 L274.44,50.72 L275.80,47.72 L277.15,45.05 L278.51,42.69 L279.87,40.61 L281.23,38.79 L282.58,37.20 L283.94,35.82 L285.30,34.63 L286.65,33.60 L288.01,32.71 L289.37,31.95 L290.72,31.30 L292.08,30.74 L293.44,30.26 L294.79,29.85 L296.15,29.50 L297.51,29.20 L298.87,28.95 L300.22,28.73 L301.58,28.55 L302.94,28.39 L304.29,28.26 L305.65,28.14 L307.01,28.05 L308.36,27.96 L309.72,27.90" fill="none" stroke="#638041" stroke-width="0.85" stroke-linejoin="round" vector-effect="non-scaling-stroke"/>
<path d="M33.5,22.5 V170.5 H315" fill="none" stroke="#707070" stroke-width="1"/>
<line x1="30.2" x2="33.5" y1="165.58519108280254" y2="165.58519108280254" stroke="#707070" stroke-width="0.8"/>
<text class="lb" x="27.8" y="168.99" text-anchor="end">0</text>
<line x1="30.2" x2="33.5" y1="96.54458598726116" y2="96.54458598726116" stroke="#707070" stroke-width="0.8"/>
<text class="lb" x="27.8" y="99.94" text-anchor="end">.5</text>
<line x1="30.2" x2="33.5" y1="27.503980891719777" y2="27.503980891719777" stroke="#707070" stroke-width="0.8"/>
<path d="M763 0H583V1147Q518 1085 412.5 1023T223 930V1104Q372 1174 483.5 1273.5T641 1466H763Z" fill="#111" stroke="#111" stroke-width="40" transform="translate(23.18,30.90) scale(0.004053,-0.004053)"/>
<line x1="38.34" x2="38.34" y1="170.5" y2="174" stroke="#707070" stroke-width="0.8"/>
<text class="lb" x="38.34" y="183.2" text-anchor="middle">-4</text>
<line x1="106.19" x2="106.19" y1="170.5" y2="174" stroke="#707070" stroke-width="0.8"/>
<text class="lb" x="106.19" y="183.2" text-anchor="middle">-2</text>
<line x1="174.03" x2="174.03" y1="170.5" y2="174" stroke="#707070" stroke-width="0.8"/>
<text class="lb" x="174.03" y="183.2" text-anchor="middle">0</text>
<line x1="241.88" x2="241.88" y1="170.5" y2="174" stroke="#707070" stroke-width="0.8"/>
<text class="lb" x="241.88" y="183.2" text-anchor="middle">2</text>
<line x1="309.72" x2="309.72" y1="170.5" y2="174" stroke="#707070" stroke-width="0.8"/>
<text class="lb" x="309.72" y="183.2" text-anchor="middle">4</text>
<text class="lb" x="174" y="191" text-anchor="middle">Theta</text>
<text class="lb" transform="translate(16.3,97) rotate(-90)" text-anchor="middle">Probability</text>
<text class="tt" x="174.3" y="19.4" text-anchor="middle" textLength="160" lengthAdjust="spacingAndGlyphs">Boundary Characteristic Curves</text>
<rect x="83.4" y="197.5" width="181" height="26" fill="#fff" stroke="#666" stroke-width="0.7"/>
<line x1="87" x2="117.3" y1="205" y2="205" stroke="#2d567b" stroke-width="0.95"/>
<line x1="180.2" x2="209.4" y1="205" y2="205" stroke="#99464c" stroke-width="0.95"/>
<line x1="87" x2="117.3" y1="216.3" y2="216.3" stroke="#638041" stroke-width="0.95"/>
<text class="lb" x="122.5" y="208">Pr(GPT5≥2)</text>
<text class="lb" x="215.8" y="208">Pr(GPT5≥3)</text>
<text class="lb" x="122.5" y="219.3">Pr(GPT5=4)</text>
</g>
<text class="it" x="529.3" y="314.0" text-anchor="middle" opacity="0.999">Item 6</text>
<g transform="translate(359.2,333.1) scale(0.98638,1.05447)" opacity="0.999">
<rect x="0" y="0" width="323.0" height="235.0" fill="#eaf3f6"/>
<rect x="33" y="22.5" width="282" height="148" fill="#fff"/>
<line x1="34" x2="315" y1="165.58111380145277" y2="165.58111380145277" stroke="#eaf3f6" stroke-width="0.7"/>
<line x1="34" x2="315" y1="96.58898305084743" y2="96.58898305084743" stroke="#eaf3f6" stroke-width="0.7"/>
<line x1="34" x2="315" y1="27.59685230024209" y2="27.59685230024209" stroke="#eaf3f6" stroke-width="0.7"/>
<path d="M38.63,165.58 L39.98,165.58 L41.34,165.58 L42.69,165.58 L44.04,165.58 L45.40,165.58 L46.75,165.58 L48.11,165.58 L49.46,165.58 L50.82,165.58 L52.17,165.58 L53.53,165.58 L54.88,165.58 L56.23,165.58 L57.59,165.58 L58.94,165.58 L60.30,165.58 L61.65,165.58 L63.01,165.58 L64.36,165.58 L65.72,165.58 L67.07,165.58 L68.42,165.58 L69.78,165.58 L71.13,165.58 L72.49,165.58 L73.84,165.58 L75.20,165.58 L76.55,165.58 L77.91,165.58 L79.26,165.58 L80.61,165.58 L81.97,165.58 L83.32,165.58 L84.68,165.58 L86.03,165.58 L87.39,165.58 L88.74,165.58 L90.10,165.58 L91.45,165.58 L92.80,165.58 L94.16,165.58 L95.51,165.58 L96.87,165.58 L98.22,165.58 L99.58,165.58 L100.93,165.58 L102.29,165.58 L103.64,165.58 L104.99,165.58 L106.35,165.58 L107.70,165.58 L109.06,165.58 L110.41,165.58 L111.77,165.58 L113.12,165.58 L114.48,165.58 L115.83,165.58 L117.18,165.58 L118.54,165.58 L119.89,165.58 L121.25,165.57 L122.60,165.57 L123.96,165.57 L125.31,165.57 L126.67,165.57 L128.02,165.57 L129.37,165.56 L130.73,165.56 L132.08,165.55 L133.44,165.55 L134.79,165.54 L136.15,165.54 L137.50,165.53 L138.86,165.52 L140.21,165.50 L141.56,165.49 L142.92,165.47 L144.27,165.45 L145.63,165.43 L146.98,165.40 L148.34,165.36 L149.69,165.32 L151.05,165.26 L152.40,165.20 L153.75,165.13 L155.11,165.04 L156.46,164.94 L157.82,164.81 L159.17,164.66 L160.53,164.49 L161.88,164.27 L163.24,164.02 L164.59,163.72 L165.94,163.37 L167.30,162.94 L168.65,162.44 L170.01,161.85 L171.36,161.14 L172.72,160.31 L174.07,159.33 L175.43,158.18 L176.78,156.83 L178.13,155.25 L179.49,153.42 L180.84,151.29 L182.20,148.84 L183.55,146.05 L184.91,142.87 L186.26,139.28 L187.62,135.29 L188.97,130.87 L190.32,126.04 L191.68,120.84 L193.03,115.30 L194.39,109.48 L195.74,103.47 L197.10,97.36 L198.45,91.23 L199.81,85.18 L201.16,79.31 L202.51,73.70 L203.87,68.40 L205.22,63.48 L206.58,58.96 L207.93,54.85 L209.29,51.17 L210.64,47.89 L212.00,45.00 L213.35,42.47 L214.70,40.26 L216.06,38.36 L217.41,36.72 L218.77,35.32 L220.12,34.12 L221.48,33.10 L222.83,32.23 L224.19,31.50 L225.54,30.88 L226.89,30.35 L228.25,29.91 L229.60,29.54 L230.96,29.23 L232.31,28.96 L233.67,28.74 L235.02,28.56 L236.38,28.40 L237.73,28.27 L239.08,28.16 L240.44,28.07 L241.79,27.99 L243.15,27.93 L244.50,27.87 L245.86,27.83 L247.21,27.79 L248.57,27.76 L249.92,27.73 L251.27,27.71 L252.63,27.69 L253.98,27.68 L255.34,27.66 L256.69,27.65 L258.05,27.64 L259.40,27.64 L260.76,27.63 L262.11,27.62 L263.46,27.62 L264.82,27.62 L266.17,27.61 L267.53,27.61 L268.88,27.61 L270.24,27.61 L271.59,27.60 L272.95,27.60 L274.30,27.60 L275.66,27.60 L277.01,27.60 L278.36,27.60 L279.72,27.60 L281.07,27.60 L282.43,27.60 L283.78,27.60 L285.14,27.60 L286.49,27.60 L287.85,27.60 L289.20,27.60 L290.55,27.60 L291.91,27.60 L293.26,27.60 L294.62,27.60 L295.97,27.60 L297.33,27.60 L298.68,27.60 L300.04,27.60 L301.39,27.60 L302.74,27.60 L304.10,27.60 L305.45,27.60 L306.81,27.60 L308.16,27.60 L309.52,27.60" fill="none" stroke="#2d567b" stroke-width="0.85" stroke-linejoin="round" vector-effect="non-scaling-stroke"/>
<path d="M38.63,165.58 L39.98,165.58 L41.34,165.58 L42.69,165.58 L44.04,165.58 L45.40,165.58 L46.75,165.58 L48.11,165.58 L49.46,165.58 L50.82,165.58 L52.17,165.58 L53.53,165.58 L54.88,165.58 L56.23,165.58 L57.59,165.58 L58.94,165.58 L60.30,165.58 L61.65,165.58 L63.01,165.58 L64.36,165.58 L65.72,165.58 L67.07,165.58 L68.42,165.58 L69.78,165.58 L71.13,165.58 L72.49,165.58 L73.84,165.58 L75.20,165.58 L76.55,165.58 L77.91,165.58 L79.26,165.58 L80.61,165.58 L81.97,165.58 L83.32,165.58 L84.68,165.58 L86.03,165.58 L87.39,165.58 L88.74,165.58 L90.10,165.58 L91.45,165.58 L92.80,165.58 L94.16,165.58 L95.51,165.58 L96.87,165.58 L98.22,165.58 L99.58,165.58 L100.93,165.58 L102.29,165.58 L103.64,165.58 L104.99,165.58 L106.35,165.58 L107.70,165.58 L109.06,165.58 L110.41,165.58 L111.77,165.58 L113.12,165.58 L114.48,165.58 L115.83,165.58 L117.18,165.58 L118.54,165.58 L119.89,165.58 L121.25,165.58 L122.60,165.58 L123.96,165.58 L125.31,165.58 L126.67,165.58 L128.02,165.58 L129.37,165.58 L130.73,165.58 L132.08,165.58 L133.44,165.58 L134.79,165.58 L136.15,165.58 L137.50,165.58 L138.86,165.58 L140.21,165.58 L141.56,165.58 L142.92,165.58 L144.27,165.58 L145.63,165.58 L146.98,165.58 L148.34,165.58 L149.69,165.58 L151.05,165.58 L152.40,165.58 L153.75,165.58 L155.11,165.58 L156.46,165.58 L157.82,165.57 L159.17,165.57 L160.53,165.57 L161.88,165.57 L163.24,165.57 L164.59,165.57 L165.94,165.56 L167.30,165.56 L168.65,165.55 L170.01,165.55 L171.36,165.54 L172.72,165.53 L174.07,165.53 L175.43,165.51 L176.78,165.50 L178.13,165.49 L179.49,165.47 L180.84,165.44 L182.20,165.42 L183.55,165.39 L184.91,165.35 L186.26,165.30 L187.62,165.25 L188.97,165.19 L190.32,165.11 L191.68,165.02 L193.03,164.91 L194.39,164.78 L195.74,164.62 L197.10,164.44 L198.45,164.22 L199.81,163.95 L201.16,163.64 L202.51,163.27 L203.87,162.83 L205.22,162.30 L206.58,161.68 L207.93,160.95 L209.29,160.08 L210.64,159.06 L212.00,157.86 L213.35,156.46 L214.70,154.82 L216.06,152.91 L217.41,150.71 L218.77,148.18 L220.12,145.29 L221.48,142.01 L222.83,138.32 L224.19,134.22 L225.54,129.70 L226.89,124.78 L228.25,119.48 L229.60,113.87 L230.96,108.00 L232.31,101.95 L233.67,95.82 L235.02,89.70 L236.38,83.69 L237.73,77.88 L239.08,72.34 L240.44,67.13 L241.79,62.31 L243.15,57.89 L244.50,53.89 L245.86,50.31 L247.21,47.13 L248.57,44.33 L249.92,41.89 L251.27,39.76 L252.63,37.93 L253.98,36.35 L255.34,35.00 L256.69,33.85 L258.05,32.87 L259.40,32.03 L260.76,31.33 L262.11,30.74 L263.46,30.23 L264.82,29.81 L266.17,29.45 L267.53,29.16 L268.88,28.90 L270.24,28.69 L271.59,28.51 L272.95,28.37 L274.30,28.24 L275.66,28.14 L277.01,28.05 L278.36,27.98 L279.72,27.91 L281.07,27.86 L282.43,27.82 L283.78,27.78 L285.14,27.75 L286.49,27.73 L287.85,27.71 L289.20,27.69 L290.55,27.67 L291.91,27.66 L293.26,27.65 L294.62,27.64 L295.97,27.63 L297.33,27.63 L298.68,27.62 L300.04,27.62 L301.39,27.62 L302.74,27.61 L304.10,27.61 L305.45,27.61 L306.81,27.61 L308.16,27.60 L309.52,27.60" fill="none" stroke="#99464c" stroke-width="0.85" stroke-linejoin="round" vector-effect="non-scaling-stroke"/>
<path d="M38.63,165.58 L39.98,165.58 L41.34,165.58 L42.69,165.58 L44.04,165.58 L45.40,165.58 L46.75,165.58 L48.11,165.58 L49.46,165.58 L50.82,165.58 L52.17,165.58 L53.53,165.58 L54.88,165.58 L56.23,165.58 L57.59,165.58 L58.94,165.58 L60.30,165.58 L61.65,165.58 L63.01,165.58 L64.36,165.58 L65.72,165.58 L67.07,165.58 L68.42,165.58 L69.78,165.58 L71.13,165.58 L72.49,165.58 L73.84,165.58 L75.20,165.58 L76.55,165.58 L77.91,165.58 L79.26,165.58 L80.61,165.58 L81.97,165.58 L83.32,165.58 L84.68,165.58 L86.03,165.58 L87.39,165.58 L88.74,165.58 L90.10,165.58 L91.45,165.58 L92.80,165.58 L94.16,165.58 L95.51,165.58 L96.87,165.58 L98.22,165.58 L99.58,165.58 L100.93,165.58 L102.29,165.58 L103.64,165.58 L104.99,165.58 L106.35,165.58 L107.70,165.58 L109.06,165.58 L110.41,165.58 L111.77,165.58 L113.12,165.58 L114.48,165.58 L115.83,165.58 L117.18,165.58 L118.54,165.58 L119.89,165.58 L121.25,165.58 L122.60,165.58 L123.96,165.58 L125.31,165.58 L126.67,165.58 L128.02,165.58 L129.37,165.58 L130.73,165.58 L132.08,165.58 L133.44,165.58 L134.79,165.58 L136.15,165.58 L137.50,165.58 L138.86,165.58 L140.21,165.58 L141.56,165.58 L142.92,165.58 L144.27,165.58 L145.63,165.58 L146.98,165.58 L148.34,165.58 L149.69,165.58 L151.05,165.58 L152.40,165.58 L153.75,165.58 L155.11,165.58 L156.46,165.58 L157.82,165.58 L159.17,165.58 L160.53,165.58 L161.88,165.58 L163.24,165.58 L164.59,165.58 L165.94,165.58 L167.30,165.58 L168.65,165.58 L170.01,165.58 L171.36,165.58 L172.72,165.58 L174.07,165.58 L175.43,165.57 L176.78,165.57 L178.13,165.57 L179.49,165.57 L180.84,165.57 L182.20,165.56 L183.55,165.56 L184.91,165.56 L186.26,165.55 L187.62,165.55 L188.97,165.54 L190.32,165.53 L191.68,165.52 L193.03,165.51 L194.39,165.50 L195.74,165.48 L197.10,165.46 L198.45,165.44 L199.81,165.41 L201.16,165.37 L202.51,165.33 L203.87,165.28 L205.22,165.23 L206.58,165.16 L207.93,165.08 L209.29,164.98 L210.64,164.86 L212.00,164.72 L213.35,164.56 L214.70,164.36 L216.06,164.12 L217.41,163.84 L218.77,163.51 L220.12,163.11 L221.48,162.64 L222.83,162.08 L224.19,161.42 L225.54,160.64 L226.89,159.72 L228.25,158.63 L229.60,157.36 L230.96,155.87 L232.31,154.14 L233.67,152.12 L235.02,149.80 L236.38,147.14 L237.73,144.10 L239.08,140.68 L240.44,136.83 L241.79,132.57 L243.15,127.90 L244.50,122.83 L245.86,117.41 L247.21,111.69 L248.57,105.75 L249.92,99.66 L251.27,93.52 L252.63,87.43 L253.98,81.49 L255.34,75.77 L256.69,70.35 L258.05,65.28 L259.40,60.60 L260.76,56.34 L262.11,52.50 L263.46,49.07 L264.82,46.04 L266.17,43.38 L267.53,41.05 L268.88,39.04 L270.24,37.31 L271.59,35.82 L272.95,34.54 L274.30,33.46 L275.66,32.54 L277.01,31.76 L278.36,31.10 L279.72,30.54 L281.07,30.07 L282.43,29.67 L283.78,29.34 L285.14,29.06 L286.49,28.82 L287.85,28.62 L289.20,28.46 L290.55,28.32 L291.91,28.20 L293.26,28.10 L294.62,28.02 L295.97,27.95 L297.33,27.89 L298.68,27.85 L300.04,27.80 L301.39,27.77 L302.74,27.74 L304.10,27.72 L305.45,27.70 L306.81,27.68 L308.16,27.67 L309.52,27.66" fill="none" stroke="#638041" stroke-width="0.85" stroke-linejoin="round" vector-effect="non-scaling-stroke"/>
<path d="M33.5,22.5 V170.5 H315" fill="none" stroke="#707070" stroke-width="1"/>
<line x1="30.2" x2="33.5" y1="165.58111380145277" y2="165.58111380145277" stroke="#707070" stroke-width="0.8"/>
<text class="lb" x="27.8" y="168.98" text-anchor="end">0</text>
<line x1="30.2" x2="33.5" y1="96.58898305084743" y2="96.58898305084743" stroke="#707070" stroke-width="0.8"/>
<text class="lb" x="27.8" y="99.99" text-anchor="end">.5</text>
<line x1="30.2" x2="33.5" y1="27.59685230024209" y2="27.59685230024209" stroke="#707070" stroke-width="0.8"/>
<path d="M763 0H583V1147Q518 1085 412.5 1023T223 930V1104Q372 1174 483.5 1273.5T641 1466H763Z" fill="#111" stroke="#111" stroke-width="40" transform="translate(23.18,31.00) scale(0.004053,-0.004053)"/>
<line x1="38.63" x2="38.63" y1="170.5" y2="174" stroke="#707070" stroke-width="0.8"/>
<text class="lb" x="38.63" y="183.2" text-anchor="middle">-4</text>
<line x1="106.35" x2="106.35" y1="170.5" y2="174" stroke="#707070" stroke-width="0.8"/>
<text class="lb" x="106.35" y="183.2" text-anchor="middle">-2</text>
<line x1="174.07" x2="174.07" y1="170.5" y2="174" stroke="#707070" stroke-width="0.8"/>
<text class="lb" x="174.07" y="183.2" text-anchor="middle">0</text>
<line x1="241.79" x2="241.79" y1="170.5" y2="174" stroke="#707070" stroke-width="0.8"/>
<text class="lb" x="241.79" y="183.2" text-anchor="middle">2</text>
<line x1="309.52" x2="309.52" y1="170.5" y2="174" stroke="#707070" stroke-width="0.8"/>
<text class="lb" x="309.52" y="183.2" text-anchor="middle">4</text>
<text class="lb" x="174" y="191" text-anchor="middle">Theta</text>
<text class="lb" transform="translate(16.3,97) rotate(-90)" text-anchor="middle">Probability</text>
<text class="tt" x="174.3" y="19.4" text-anchor="middle" textLength="160" lengthAdjust="spacingAndGlyphs">Boundary Characteristic Curves</text>
<rect x="83.4" y="197.5" width="181" height="26" fill="#fff" stroke="#666" stroke-width="0.7"/>
<line x1="87" x2="117.3" y1="205" y2="205" stroke="#2d567b" stroke-width="0.95"/>
<line x1="180.2" x2="209.4" y1="205" y2="205" stroke="#99464c" stroke-width="0.95"/>
<line x1="87" x2="117.3" y1="216.3" y2="216.3" stroke="#638041" stroke-width="0.95"/>
<text class="lb" x="122.5" y="208">Pr(GPT6≥2)</text>
<text class="lb" x="215.8" y="208">Pr(GPT6≥3)</text>
<text class="lb" x="122.5" y="219.3">Pr(GPT6=4)</text>
</g>
<text class="it" x="171.0" y="619.0" text-anchor="middle" opacity="0.999">Item 7</text>
<g transform="translate(3.5,637.9) scale(1.02198,1.08383)" opacity="0.999">
<rect x="0" y="0" width="323.0" height="235.0" fill="#eaf3f6"/>
<rect x="33" y="22.5" width="282" height="148" fill="#fff"/>
<line x1="34" x2="315" y1="165.89320769532787" y2="165.89320769532787" stroke="#eaf3f6" stroke-width="0.7"/>
<line x1="34" x2="315" y1="96.83254809579901" y2="96.83254809579901" stroke="#eaf3f6" stroke-width="0.7"/>
<line x1="34" x2="315" y1="27.77188849627015" y2="27.77188849627015" stroke="#eaf3f6" stroke-width="0.7"/>
<path d="M38.55,165.89 L39.91,165.89 L41.26,165.89 L42.62,165.89 L43.98,165.89 L45.33,165.89 L46.69,165.89 L48.04,165.89 L49.40,165.89 L50.75,165.89 L52.11,165.89 L53.47,165.89 L54.82,165.89 L56.18,165.89 L57.53,165.89 L58.89,165.89 L60.24,165.89 L61.60,165.89 L62.96,165.89 L64.31,165.89 L65.67,165.89 L67.02,165.89 L68.38,165.89 L69.73,165.89 L71.09,165.89 L72.45,165.89 L73.80,165.89 L75.16,165.89 L76.51,165.89 L77.87,165.89 L79.22,165.89 L80.58,165.89 L81.93,165.89 L83.29,165.89 L84.65,165.89 L86.00,165.89 L87.36,165.89 L88.71,165.89 L90.07,165.89 L91.42,165.89 L92.78,165.89 L94.14,165.89 L95.49,165.89 L96.85,165.89 L98.20,165.89 L99.56,165.89 L100.91,165.89 L102.27,165.89 L103.63,165.89 L104.98,165.89 L106.34,165.89 L107.69,165.89 L109.05,165.89 L110.40,165.89 L111.76,165.89 L113.12,165.89 L114.47,165.89 L115.83,165.89 L117.18,165.89 L118.54,165.89 L119.89,165.89 L121.25,165.89 L122.61,165.89 L123.96,165.89 L125.32,165.89 L126.67,165.89 L128.03,165.89 L129.38,165.89 L130.74,165.89 L132.10,165.89 L133.45,165.89 L134.81,165.89 L136.16,165.89 L137.52,165.89 L138.87,165.88 L140.23,165.88 L141.59,165.88 L142.94,165.88 L144.30,165.87 L145.65,165.87 L147.01,165.86 L148.36,165.86 L149.72,165.85 L151.08,165.84 L152.43,165.82 L153.79,165.81 L155.14,165.79 L156.50,165.76 L157.85,165.73 L159.21,165.69 L160.57,165.64 L161.92,165.58 L163.28,165.51 L164.63,165.42 L165.99,165.31 L167.34,165.17 L168.70,165.00 L170.06,164.79 L171.41,164.53 L172.77,164.22 L174.12,163.83 L175.48,163.35 L176.83,162.76 L178.19,162.04 L179.55,161.16 L180.90,160.09 L182.26,158.79 L183.61,157.22 L184.97,155.33 L186.32,153.06 L187.68,150.38 L189.04,147.21 L190.39,143.51 L191.75,139.24 L193.10,134.39 L194.46,128.94 L195.81,122.92 L197.17,116.41 L198.53,109.50 L199.88,102.31 L201.24,95.00 L202.59,87.74 L203.95,80.67 L205.30,73.94 L206.66,67.67 L208.02,61.93 L209.37,56.78 L210.73,52.22 L212.08,48.24 L213.44,44.81 L214.79,41.89 L216.15,39.42 L217.50,37.35 L218.86,35.62 L220.22,34.19 L221.57,33.01 L222.93,32.04 L224.28,31.25 L225.64,30.60 L226.99,30.07 L228.35,29.63 L229.71,29.28 L231.06,29.00 L232.42,28.76 L233.77,28.58 L235.13,28.42 L236.48,28.30 L237.84,28.20 L239.20,28.12 L240.55,28.05 L241.91,28.00 L243.26,27.95 L244.62,27.92 L245.97,27.89 L247.33,27.87 L248.69,27.85 L250.04,27.84 L251.40,27.82 L252.75,27.81 L254.11,27.81 L255.46,27.80 L256.82,27.79 L258.18,27.79 L259.53,27.79 L260.89,27.78 L262.24,27.78 L263.60,27.78 L264.95,27.78 L266.31,27.78 L267.67,27.78 L269.02,27.78 L270.38,27.77 L271.73,27.77 L273.09,27.77 L274.44,27.77 L275.80,27.77 L277.16,27.77 L278.51,27.77 L279.87,27.77 L281.22,27.77 L282.58,27.77 L283.93,27.77 L285.29,27.77 L286.65,27.77 L288.00,27.77 L289.36,27.77 L290.71,27.77 L292.07,27.77 L293.42,27.77 L294.78,27.77 L296.14,27.77 L297.49,27.77 L298.85,27.77 L300.20,27.77 L301.56,27.77 L302.91,27.77 L304.27,27.77 L305.63,27.77 L306.98,27.77 L308.34,27.77 L309.69,27.77" fill="none" stroke="#2d567b" stroke-width="0.85" stroke-linejoin="round" vector-effect="non-scaling-stroke"/>
<path d="M38.55,165.89 L39.91,165.89 L41.26,165.89 L42.62,165.89 L43.98,165.89 L45.33,165.89 L46.69,165.89 L48.04,165.89 L49.40,165.89 L50.75,165.89 L52.11,165.89 L53.47,165.89 L54.82,165.89 L56.18,165.89 L57.53,165.89 L58.89,165.89 L60.24,165.89 L61.60,165.89 L62.96,165.89 L64.31,165.89 L65.67,165.89 L67.02,165.89 L68.38,165.89 L69.73,165.89 L71.09,165.89 L72.45,165.89 L73.80,165.89 L75.16,165.89 L76.51,165.89 L77.87,165.89 L79.22,165.89 L80.58,165.89 L81.93,165.89 L83.29,165.89 L84.65,165.89 L86.00,165.89 L87.36,165.89 L88.71,165.89 L90.07,165.89 L91.42,165.89 L92.78,165.89 L94.14,165.89 L95.49,165.89 L96.85,165.89 L98.20,165.89 L99.56,165.89 L100.91,165.89 L102.27,165.89 L103.63,165.89 L104.98,165.89 L106.34,165.89 L107.69,165.89 L109.05,165.89 L110.40,165.89 L111.76,165.89 L113.12,165.89 L114.47,165.89 L115.83,165.89 L117.18,165.89 L118.54,165.89 L119.89,165.89 L121.25,165.89 L122.61,165.89 L123.96,165.89 L125.32,165.89 L126.67,165.89 L128.03,165.89 L129.38,165.89 L130.74,165.89 L132.10,165.89 L133.45,165.89 L134.81,165.89 L136.16,165.89 L137.52,165.89 L138.87,165.89 L140.23,165.89 L141.59,165.89 L142.94,165.89 L144.30,165.89 L145.65,165.89 L147.01,165.89 L148.36,165.89 L149.72,165.89 L151.08,165.89 L152.43,165.89 L153.79,165.89 L155.14,165.89 L156.50,165.89 L157.85,165.89 L159.21,165.89 L160.57,165.89 L161.92,165.89 L163.28,165.89 L164.63,165.89 L165.99,165.89 L167.34,165.89 L168.70,165.88 L170.06,165.88 L171.41,165.88 L172.77,165.88 L174.12,165.87 L175.48,165.87 L176.83,165.86 L178.19,165.85 L179.55,165.84 L180.90,165.83 L182.26,165.81 L183.61,165.80 L184.97,165.77 L186.32,165.75 L187.68,165.71 L189.04,165.67 L190.39,165.61 L191.75,165.55 L193.10,165.47 L194.46,165.37 L195.81,165.24 L197.17,165.09 L198.53,164.90 L199.88,164.67 L201.24,164.38 L202.59,164.03 L203.95,163.60 L205.30,163.07 L206.66,162.42 L208.02,161.62 L209.37,160.65 L210.73,159.47 L212.08,158.04 L213.44,156.32 L214.79,154.25 L216.15,151.78 L217.50,148.85 L218.86,145.43 L220.22,141.45 L221.57,136.89 L222.93,131.73 L224.28,126.00 L225.64,119.73 L226.99,113.00 L228.35,105.93 L229.71,98.66 L231.06,91.35 L232.42,84.17 L233.77,77.25 L235.13,70.74 L236.48,64.73 L237.84,59.28 L239.20,54.42 L240.55,50.16 L241.91,46.46 L243.26,43.29 L244.62,40.60 L245.97,38.34 L247.33,36.45 L248.69,34.87 L250.04,33.57 L251.40,32.50 L252.75,31.62 L254.11,30.91 L255.46,30.32 L256.82,29.84 L258.18,29.45 L259.53,29.13 L260.89,28.87 L262.24,28.66 L263.60,28.50 L264.95,28.36 L266.31,28.25 L267.67,28.16 L269.02,28.08 L270.38,28.02 L271.73,27.98 L273.09,27.94 L274.44,27.91 L275.80,27.88 L277.16,27.86 L278.51,27.84 L279.87,27.83 L281.22,27.82 L282.58,27.81 L283.93,27.80 L285.29,27.80 L286.65,27.79 L288.00,27.79 L289.36,27.78 L290.71,27.78 L292.07,27.78 L293.42,27.78 L294.78,27.78 L296.14,27.78 L297.49,27.78 L298.85,27.77 L300.20,27.77 L301.56,27.77 L302.91,27.77 L304.27,27.77 L305.63,27.77 L306.98,27.77 L308.34,27.77 L309.69,27.77" fill="none" stroke="#99464c" stroke-width="0.85" stroke-linejoin="round" vector-effect="non-scaling-stroke"/>
<path d="M38.55,165.89 L39.91,165.89 L41.26,165.89 L42.62,165.89 L43.98,165.89 L45.33,165.89 L46.69,165.89 L48.04,165.89 L49.40,165.89 L50.75,165.89 L52.11,165.89 L53.47,165.89 L54.82,165.89 L56.18,165.89 L57.53,165.89 L58.89,165.89 L60.24,165.89 L61.60,165.89 L62.96,165.89 L64.31,165.89 L65.67,165.89 L67.02,165.89 L68.38,165.89 L69.73,165.89 L71.09,165.89 L72.45,165.89 L73.80,165.89 L75.16,165.89 L76.51,165.89 L77.87,165.89 L79.22,165.89 L80.58,165.89 L81.93,165.89 L83.29,165.89 L84.65,165.89 L86.00,165.89 L87.36,165.89 L88.71,165.89 L90.07,165.89 L91.42,165.89 L92.78,165.89 L94.14,165.89 L95.49,165.89 L96.85,165.89 L98.20,165.89 L99.56,165.89 L100.91,165.89 L102.27,165.89 L103.63,165.89 L104.98,165.89 L106.34,165.89 L107.69,165.89 L109.05,165.89 L110.40,165.89 L111.76,165.89 L113.12,165.89 L114.47,165.89 L115.83,165.89 L117.18,165.89 L118.54,165.89 L119.89,165.89 L121.25,165.89 L122.61,165.89 L123.96,165.89 L125.32,165.89 L126.67,165.89 L128.03,165.89 L129.38,165.89 L130.74,165.89 L132.10,165.89 L133.45,165.89 L134.81,165.89 L136.16,165.89 L137.52,165.89 L138.87,165.89 L140.23,165.89 L141.59,165.89 L142.94,165.89 L144.30,165.89 L145.65,165.89 L147.01,165.89 L148.36,165.89 L149.72,165.89 L151.08,165.89 L152.43,165.89 L153.79,165.89 L155.14,165.89 L156.50,165.89 L157.85,165.89 L159.21,165.89 L160.57,165.89 L161.92,165.89 L163.28,165.89 L164.63,165.89 L165.99,165.89 L167.34,165.89 L168.70,165.89 L170.06,165.89 L171.41,165.89 L172.77,165.89 L174.12,165.89 L175.48,165.89 L176.83,165.89 L178.19,165.89 L179.55,165.89 L180.90,165.89 L182.26,165.89 L183.61,165.89 L184.97,165.89 L186.32,165.89 L187.68,165.89 L189.04,165.89 L190.39,165.89 L191.75,165.89 L193.10,165.89 L194.46,165.89 L195.81,165.88 L197.17,165.88 L198.53,165.88 L199.88,165.88 L201.24,165.87 L202.59,165.87 L203.95,165.86 L205.30,165.85 L206.66,165.84 L208.02,165.83 L209.37,165.82 L210.73,165.80 L212.08,165.78 L213.44,165.75 L214.79,165.72 L216.15,165.68 L217.50,165.63 L218.86,165.57 L220.22,165.49 L221.57,165.39 L222.93,165.28 L224.28,165.13 L225.64,164.95 L226.99,164.73 L228.35,164.46 L229.71,164.13 L231.06,163.72 L232.42,163.21 L233.77,162.59 L235.13,161.84 L236.48,160.91 L237.84,159.79 L239.20,158.43 L240.55,156.78 L241.91,154.80 L243.26,152.43 L244.62,149.63 L245.97,146.33 L247.33,142.50 L248.69,138.09 L250.04,133.08 L251.40,127.48 L252.75,121.34 L254.11,114.72 L255.46,107.72 L256.82,100.49 L258.18,93.18 L259.53,85.94 L260.89,78.95 L262.24,72.33 L263.60,66.18 L264.95,60.59 L266.31,55.58 L267.67,51.17 L269.02,47.33 L270.38,44.03 L271.73,41.23 L273.09,38.87 L274.44,36.89 L275.80,35.24 L277.16,33.88 L278.51,32.75 L279.87,31.83 L281.22,31.07 L282.58,30.45 L283.93,29.95 L285.29,29.54 L286.65,29.20 L288.00,28.93 L289.36,28.71 L290.71,28.53 L292.07,28.39 L293.42,28.27 L294.78,28.18 L296.14,28.10 L297.49,28.04 L298.85,27.99 L300.20,27.95 L301.56,27.91 L302.91,27.89 L304.27,27.86 L305.63,27.85 L306.98,27.83 L308.34,27.82 L309.69,27.81" fill="none" stroke="#638041" stroke-width="0.85" stroke-linejoin="round" vector-effect="non-scaling-stroke"/>
<path d="M33.5,22.5 V170.5 H315" fill="none" stroke="#707070" stroke-width="1"/>
<line x1="30.2" x2="33.5" y1="165.89320769532787" y2="165.89320769532787" stroke="#707070" stroke-width="0.8"/>
<text class="lb" x="27.8" y="169.29" text-anchor="end">0</text>
<line x1="30.2" x2="33.5" y1="96.83254809579901" y2="96.83254809579901" stroke="#707070" stroke-width="0.8"/>
<text class="lb" x="27.8" y="100.23" text-anchor="end">.5</text>
<line x1="30.2" x2="33.5" y1="27.77188849627015" y2="27.77188849627015" stroke="#707070" stroke-width="0.8"/>
<path d="M763 0H583V1147Q518 1085 412.5 1023T223 930V1104Q372 1174 483.5 1273.5T641 1466H763Z" fill="#111" stroke="#111" stroke-width="40" transform="translate(23.18,31.17) scale(0.004053,-0.004053)"/>
<line x1="38.55" x2="38.55" y1="170.5" y2="174" stroke="#707070" stroke-width="0.8"/>
<text class="lb" x="38.55" y="183.2" text-anchor="middle">-4</text>
<line x1="106.34" x2="106.34" y1="170.5" y2="174" stroke="#707070" stroke-width="0.8"/>
<text class="lb" x="106.34" y="183.2" text-anchor="middle">-2</text>
<line x1="174.12" x2="174.12" y1="170.5" y2="174" stroke="#707070" stroke-width="0.8"/>
<text class="lb" x="174.12" y="183.2" text-anchor="middle">0</text>
<line x1="241.91" x2="241.91" y1="170.5" y2="174" stroke="#707070" stroke-width="0.8"/>
<text class="lb" x="241.91" y="183.2" text-anchor="middle">2</text>
<line x1="309.69" x2="309.69" y1="170.5" y2="174" stroke="#707070" stroke-width="0.8"/>
<text class="lb" x="309.69" y="183.2" text-anchor="middle">4</text>
<text class="lb" x="174" y="191" text-anchor="middle">Theta</text>
<text class="lb" transform="translate(16.3,97) rotate(-90)" text-anchor="middle">Probability</text>
<text class="tt" x="174.3" y="19.4" text-anchor="middle" textLength="160" lengthAdjust="spacingAndGlyphs">Boundary Characteristic Curves</text>
<rect x="83.4" y="197.5" width="181" height="26" fill="#fff" stroke="#666" stroke-width="0.7"/>
<line x1="87" x2="117.3" y1="205" y2="205" stroke="#2d567b" stroke-width="0.95"/>
<line x1="180.2" x2="209.4" y1="205" y2="205" stroke="#99464c" stroke-width="0.95"/>
<line x1="87" x2="117.3" y1="216.3" y2="216.3" stroke="#638041" stroke-width="0.95"/>
<text class="lb" x="122.5" y="208">Pr(GPT7≥2)</text>
<text class="lb" x="215.8" y="208">Pr(GPT7≥3)</text>
<text class="lb" x="122.5" y="219.3">Pr(GPT7=4)</text>
</g>
<text class="it" x="536.2" y="619.0" text-anchor="middle" opacity="0.999">Item 8</text>
<g transform="translate(362.0,639.5) scale(0.99628,1.07489)" opacity="0.999">
<rect x="0" y="0" width="323.0" height="235.0" fill="#eaf3f6"/>
<rect x="33" y="22.5" width="282" height="148" fill="#fff"/>
<line x1="34" x2="315" y1="165.59778305621535" y2="165.59778305621535" stroke="#eaf3f6" stroke-width="0.7"/>
<line x1="34" x2="315" y1="96.80027711797308" y2="96.80027711797308" stroke="#eaf3f6" stroke-width="0.7"/>
<line x1="34" x2="315" y1="28.002771179730814" y2="28.002771179730814" stroke="#eaf3f6" stroke-width="0.7"/>
<path d="M38.54,165.60 L39.90,165.60 L41.26,165.60 L42.61,165.60 L43.97,165.60 L45.32,165.60 L46.68,165.60 L48.04,165.60 L49.39,165.60 L50.75,165.60 L52.10,165.60 L53.46,165.60 L54.82,165.60 L56.17,165.60 L57.53,165.60 L58.88,165.60 L60.24,165.60 L61.60,165.60 L62.95,165.60 L64.31,165.60 L65.66,165.60 L67.02,165.60 L68.38,165.60 L69.73,165.60 L71.09,165.60 L72.44,165.60 L73.80,165.60 L75.16,165.60 L76.51,165.60 L77.87,165.60 L79.22,165.60 L80.58,165.60 L81.94,165.60 L83.29,165.60 L84.65,165.60 L86.00,165.60 L87.36,165.60 L88.72,165.60 L90.07,165.60 L91.43,165.59 L92.78,165.59 L94.14,165.59 L95.50,165.59 L96.85,165.59 L98.21,165.59 L99.56,165.59 L100.92,165.59 L102.28,165.59 L103.63,165.59 L104.99,165.59 L106.35,165.58 L107.70,165.58 L109.06,165.58 L110.41,165.58 L111.77,165.57 L113.13,165.57 L114.48,165.56 L115.84,165.56 L117.19,165.55 L118.55,165.54 L119.91,165.54 L121.26,165.53 L122.62,165.51 L123.97,165.50 L125.33,165.49 L126.69,165.47 L128.04,165.45 L129.40,165.43 L130.75,165.40 L132.11,165.37 L133.47,165.33 L134.82,165.29 L136.18,165.24 L137.53,165.18 L138.89,165.12 L140.25,165.04 L141.60,164.96 L142.96,164.86 L144.31,164.74 L145.67,164.61 L147.03,164.45 L148.38,164.28 L149.74,164.07 L151.09,163.83 L152.45,163.56 L153.81,163.25 L155.16,162.88 L156.52,162.47 L157.87,161.99 L159.23,161.44 L160.59,160.80 L161.94,160.08 L163.30,159.25 L164.65,158.31 L166.01,157.23 L167.37,156.01 L168.72,154.62 L170.08,153.05 L171.43,151.29 L172.79,149.30 L174.15,147.09 L175.50,144.62 L176.86,141.89 L178.22,138.89 L179.57,135.61 L180.93,132.04 L182.28,128.20 L183.64,124.09 L185.00,119.74 L186.35,115.18 L187.71,110.43 L189.06,105.54 L190.42,100.56 L191.78,95.54 L193.13,90.54 L194.49,85.60 L195.84,80.78 L197.20,76.12 L198.56,71.65 L199.91,67.42 L201.27,63.45 L202.62,59.74 L203.98,56.32 L205.34,53.18 L206.69,50.31 L208.05,47.71 L209.40,45.37 L210.76,43.28 L212.12,41.40 L213.47,39.74 L214.83,38.26 L216.18,36.96 L217.54,35.81 L218.90,34.80 L220.25,33.92 L221.61,33.15 L222.96,32.47 L224.32,31.88 L225.68,31.37 L227.03,30.92 L228.39,30.53 L229.74,30.19 L231.10,29.90 L232.46,29.64 L233.81,29.42 L235.17,29.23 L236.52,29.07 L237.88,28.92 L239.24,28.80 L240.59,28.69 L241.95,28.60 L243.30,28.52 L244.66,28.45 L246.02,28.39 L247.37,28.34 L248.73,28.29 L250.09,28.25 L251.44,28.22 L252.80,28.19 L254.15,28.16 L255.51,28.14 L256.87,28.12 L258.22,28.11 L259.58,28.09 L260.93,28.08 L262.29,28.07 L263.65,28.06 L265.00,28.05 L266.36,28.05 L267.71,28.04 L269.07,28.04 L270.43,28.03 L271.78,28.03 L273.14,28.02 L274.49,28.02 L275.85,28.02 L277.21,28.02 L278.56,28.01 L279.92,28.01 L281.27,28.01 L282.63,28.01 L283.99,28.01 L285.34,28.01 L286.70,28.01 L288.05,28.01 L289.41,28.01 L290.77,28.01 L292.12,28.01 L293.48,28.01 L294.83,28.00 L296.19,28.00 L297.55,28.00 L298.90,28.00 L300.26,28.00 L301.61,28.00 L302.97,28.00 L304.33,28.00 L305.68,28.00 L307.04,28.00 L308.39,28.00 L309.75,28.00" fill="none" stroke="#2d567b" stroke-width="0.85" stroke-linejoin="round" vector-effect="non-scaling-stroke"/>
<path d="M38.54,165.60 L39.90,165.60 L41.26,165.60 L42.61,165.60 L43.97,165.60 L45.32,165.60 L46.68,165.60 L48.04,165.60 L49.39,165.60 L50.75,165.60 L52.10,165.60 L53.46,165.60 L54.82,165.60 L56.17,165.60 L57.53,165.60 L58.88,165.60 L60.24,165.60 L61.60,165.60 L62.95,165.60 L64.31,165.60 L65.66,165.60 L67.02,165.60 L68.38,165.60 L69.73,165.60 L71.09,165.60 L72.44,165.60 L73.80,165.60 L75.16,165.60 L76.51,165.60 L77.87,165.60 L79.22,165.60 L80.58,165.60 L81.94,165.60 L83.29,165.60 L84.65,165.60 L86.00,165.60 L87.36,165.60 L88.72,165.60 L90.07,165.60 L91.43,165.60 L92.78,165.60 L94.14,165.60 L95.50,165.60 L96.85,165.60 L98.21,165.60 L99.56,165.60 L100.92,165.60 L102.28,165.60 L103.63,165.60 L104.99,165.60 L106.35,165.60 L107.70,165.60 L109.06,165.60 L110.41,165.60 L111.77,165.60 L113.13,165.60 L114.48,165.60 L115.84,165.60 L117.19,165.60 L118.55,165.60 L119.91,165.60 L121.26,165.60 L122.62,165.60 L123.97,165.60 L125.33,165.60 L126.69,165.60 L128.04,165.60 L129.40,165.60 L130.75,165.60 L132.11,165.60 L133.47,165.60 L134.82,165.59 L136.18,165.59 L137.53,165.59 L138.89,165.59 L140.25,165.59 L141.60,165.59 L142.96,165.59 L144.31,165.59 L145.67,165.59 L147.03,165.59 L148.38,165.58 L149.74,165.58 L151.09,165.58 L152.45,165.58 L153.81,165.57 L155.16,165.57 L156.52,165.57 L157.87,165.56 L159.23,165.55 L160.59,165.55 L161.94,165.54 L163.30,165.53 L164.65,165.52 L166.01,165.51 L167.37,165.49 L168.72,165.48 L170.08,165.46 L171.43,165.44 L172.79,165.41 L174.15,165.38 L175.50,165.35 L176.86,165.31 L178.22,165.27 L179.57,165.21 L180.93,165.15 L182.28,165.08 L183.64,165.00 L185.00,164.91 L186.35,164.80 L187.71,164.68 L189.06,164.53 L190.42,164.37 L191.78,164.18 L193.13,163.96 L194.49,163.70 L195.84,163.41 L197.20,163.07 L198.56,162.68 L199.91,162.23 L201.27,161.72 L202.62,161.13 L203.98,160.45 L205.34,159.68 L206.69,158.80 L208.05,157.79 L209.40,156.64 L210.76,155.34 L212.12,153.86 L213.47,152.20 L214.83,150.32 L216.18,148.23 L217.54,145.89 L218.90,143.29 L220.25,140.43 L221.61,137.28 L222.96,133.86 L224.32,130.15 L225.68,126.18 L227.03,121.95 L228.39,117.49 L229.74,112.82 L231.10,108.00 L232.46,103.06 L233.81,98.06 L235.17,93.04 L236.52,88.06 L237.88,83.17 L239.24,78.42 L240.59,73.86 L241.95,69.51 L243.30,65.40 L244.66,61.56 L246.02,58.00 L247.37,54.71 L248.73,51.71 L250.09,48.98 L251.44,46.51 L252.80,44.30 L254.15,42.31 L255.51,40.55 L256.87,38.98 L258.22,37.59 L259.58,36.37 L260.93,35.29 L262.29,34.35 L263.65,33.52 L265.00,32.80 L266.36,32.17 L267.71,31.61 L269.07,31.14 L270.43,30.72 L271.78,30.36 L273.14,30.04 L274.49,29.77 L275.85,29.53 L277.21,29.32 L278.56,29.15 L279.92,28.99 L281.27,28.86 L282.63,28.74 L283.99,28.64 L285.34,28.56 L286.70,28.48 L288.05,28.42 L289.41,28.36 L290.77,28.31 L292.12,28.27 L293.48,28.23 L294.83,28.20 L296.19,28.18 L297.55,28.15 L298.90,28.13 L300.26,28.11 L301.61,28.10 L302.97,28.09 L304.33,28.07 L305.68,28.06 L307.04,28.06 L308.39,28.05 L309.75,28.04" fill="none" stroke="#99464c" stroke-width="0.85" stroke-linejoin="round" vector-effect="non-scaling-stroke"/>
<path d="M38.54,165.60 L39.90,165.60 L41.26,165.60 L42.61,165.60 L43.97,165.60 L45.32,165.60 L46.68,165.60 L48.04,165.60 L49.39,165.60 L50.75,165.60 L52.10,165.60 L53.46,165.60 L54.82,165.60 L56.17,165.60 L57.53,165.60 L58.88,165.60 L60.24,165.60 L61.60,165.60 L62.95,165.60 L64.31,165.60 L65.66,165.60 L67.02,165.60 L68.38,165.60 L69.73,165.60 L71.09,165.60 L72.44,165.60 L73.80,165.60 L75.16,165.60 L76.51,165.60 L77.87,165.60 L79.22,165.60 L80.58,165.60 L81.94,165.60 L83.29,165.60 L84.65,165.60 L86.00,165.60 L87.36,165.60 L88.72,165.60 L90.07,165.60 L91.43,165.60 L92.78,165.60 L94.14,165.60 L95.50,165.60 L96.85,165.60 L98.21,165.60 L99.56,165.60 L100.92,165.60 L102.28,165.60 L103.63,165.60 L104.99,165.60 L106.35,165.60 L107.70,165.60 L109.06,165.60 L110.41,165.60 L111.77,165.60 L113.13,165.60 L114.48,165.60 L115.84,165.60 L117.19,165.60 L118.55,165.60 L119.91,165.60 L121.26,165.60 L122.62,165.60 L123.97,165.60 L125.33,165.60 L126.69,165.60 L128.04,165.60 L129.40,165.60 L130.75,165.60 L132.11,165.60 L133.47,165.60 L134.82,165.60 L136.18,165.60 L137.53,165.60 L138.89,165.60 L140.25,165.60 L141.60,165.60 L142.96,165.60 L144.31,165.60 L145.67,165.60 L147.03,165.60 L148.38,165.60 L149.74,165.60 L151.09,165.60 L152.45,165.60 L153.81,165.59 L155.16,165.59 L156.52,165.59 L157.87,165.59 L159.23,165.59 L160.59,165.59 L161.94,165.59 L163.30,165.59 L164.65,165.59 L166.01,165.59 L167.37,165.58 L168.72,165.58 L170.08,165.58 L171.43,165.58 L172.79,165.57 L174.15,165.57 L175.50,165.57 L176.86,165.56 L178.22,165.55 L179.57,165.55 L180.93,165.54 L182.28,165.53 L183.64,165.52 L185.00,165.51 L186.35,165.49 L187.71,165.48 L189.06,165.46 L190.42,165.44 L191.78,165.41 L193.13,165.38 L194.49,165.35 L195.84,165.31 L197.20,165.27 L198.56,165.21 L199.91,165.15 L201.27,165.08 L202.62,165.00 L203.98,164.91 L205.34,164.80 L206.69,164.68 L208.05,164.53 L209.40,164.37 L210.76,164.18 L212.12,163.96 L213.47,163.70 L214.83,163.41 L216.18,163.07 L217.54,162.68 L218.90,162.23 L220.25,161.72 L221.61,161.13 L222.96,160.45 L224.32,159.68 L225.68,158.80 L227.03,157.79 L228.39,156.64 L229.74,155.34 L231.10,153.86 L232.46,152.20 L233.81,150.32 L235.17,148.23 L236.52,145.89 L237.88,143.29 L239.24,140.43 L240.59,137.28 L241.95,133.86 L243.30,130.15 L244.66,126.18 L246.02,121.95 L247.37,117.49 L248.73,112.82 L250.09,108.00 L251.44,103.06 L252.80,98.06 L254.15,93.04 L255.51,88.06 L256.87,83.17 L258.22,78.42 L259.58,73.86 L260.93,69.51 L262.29,65.40 L263.65,61.56 L265.00,58.00 L266.36,54.71 L267.71,51.71 L269.07,48.98 L270.43,46.51 L271.78,44.30 L273.14,42.31 L274.49,40.55 L275.85,38.98 L277.21,37.59 L278.56,36.37 L279.92,35.29 L281.27,34.35 L282.63,33.52 L283.99,32.80 L285.34,32.17 L286.70,31.61 L288.05,31.14 L289.41,30.72 L290.77,30.36 L292.12,30.04 L293.48,29.77 L294.83,29.53 L296.19,29.32 L297.55,29.15 L298.90,28.99 L300.26,28.86 L301.61,28.74 L302.97,28.64 L304.33,28.56 L305.68,28.48 L307.04,28.42 L308.39,28.36 L309.75,28.31" fill="none" stroke="#638041" stroke-width="0.85" stroke-linejoin="round" vector-effect="non-scaling-stroke"/>
<path d="M33.5,22.5 V170.5 H315" fill="none" stroke="#707070" stroke-width="1"/>
<line x1="30.2" x2="33.5" y1="165.59778305621535" y2="165.59778305621535" stroke="#707070" stroke-width="0.8"/>
<text class="lb" x="27.8" y="169.00" text-anchor="end">0</text>
<line x1="30.2" x2="33.5" y1="96.80027711797308" y2="96.80027711797308" stroke="#707070" stroke-width="0.8"/>
<text class="lb" x="27.8" y="100.20" text-anchor="end">.5</text>
<line x1="30.2" x2="33.5" y1="28.002771179730814" y2="28.002771179730814" stroke="#707070" stroke-width="0.8"/>
<path d="M763 0H583V1147Q518 1085 412.5 1023T223 930V1104Q372 1174 483.5 1273.5T641 1466H763Z" fill="#111" stroke="#111" stroke-width="40" transform="translate(23.18,31.40) scale(0.004053,-0.004053)"/>
<line x1="38.54" x2="38.54" y1="170.5" y2="174" stroke="#707070" stroke-width="0.8"/>
<text class="lb" x="38.54" y="183.2" text-anchor="middle">-4</text>
<line x1="106.35" x2="106.35" y1="170.5" y2="174" stroke="#707070" stroke-width="0.8"/>
<text class="lb" x="106.35" y="183.2" text-anchor="middle">-2</text>
<line x1="174.15" x2="174.15" y1="170.5" y2="174" stroke="#707070" stroke-width="0.8"/>
<text class="lb" x="174.15" y="183.2" text-anchor="middle">0</text>
<line x1="241.95" x2="241.95" y1="170.5" y2="174" stroke="#707070" stroke-width="0.8"/>
<text class="lb" x="241.95" y="183.2" text-anchor="middle">2</text>
<line x1="309.75" x2="309.75" y1="170.5" y2="174" stroke="#707070" stroke-width="0.8"/>
<text class="lb" x="309.75" y="183.2" text-anchor="middle">4</text>
<text class="lb" x="174" y="191" text-anchor="middle">Theta</text>
<text class="lb" transform="translate(16.3,97) rotate(-90)" text-anchor="middle">Probability</text>
<text class="tt" x="174.3" y="19.4" text-anchor="middle" textLength="160" lengthAdjust="spacingAndGlyphs">Boundary Characteristic Curves</text>
<rect x="83.4" y="197.5" width="181" height="26" fill="#fff" stroke="#666" stroke-width="0.7"/>
<line x1="87" x2="117.3" y1="205" y2="205" stroke="#2d567b" stroke-width="0.95"/>
<line x1="180.2" x2="209.4" y1="205" y2="205" stroke="#99464c" stroke-width="0.95"/>
<line x1="87" x2="117.3" y1="216.3" y2="216.3" stroke="#638041" stroke-width="0.95"/>
<text class="lb" x="122.5" y="208">Pr(GPT8≥2)</text>
<text class="lb" x="215.8" y="208">Pr(GPT8≥3)</text>
<text class="lb" x="122.5" y="219.3">Pr(GPT8=4)</text>
</g>
</svg></div></body></html>
